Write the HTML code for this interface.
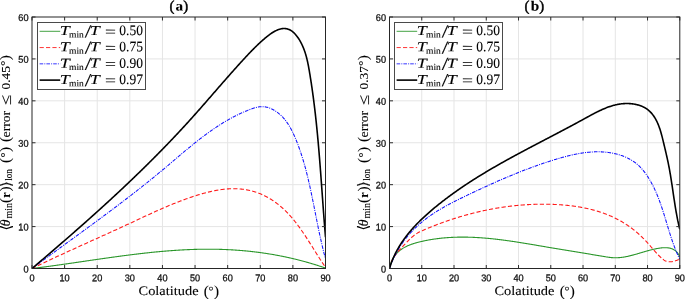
<!DOCTYPE html>
<html><head><meta charset="utf-8"><title>figure</title>
<style>html,body{margin:0;padding:0;background:#fff}svg{display:block}.tk{font-family:"Liberation Sans",sans-serif;font-size:9.8px;fill:#111;stroke:#111;stroke-width:0.3px}.sf{font-family:"Liberation Serif","DejaVu Serif","DejaVu Sans",serif;font-size:13px;fill:#000;stroke:#000;stroke-width:0.1px}.it{font-style:italic}.bd{font-weight:bold}.sub{font-size:9.3px}.pr{font-size:15.2px}.dg{font-size:12.5px}</style></head><body>
<svg width="685" height="299" viewBox="0 0 685 299">
<rect width="685" height="299" fill="#fff"/>
<g id="plot-a">
<path d="M64.61,17.0 V268.5 M97.22,17.0 V268.5 M129.83,17.0 V268.5 M162.44,17.0 V268.5 M195.06,17.0 V268.5 M227.67,17.0 V268.5 M260.28,17.0 V268.5 M292.89,17.0 V268.5 M32.0,226.58 H325.5 M32.0,184.67 H325.5 M32.0,142.75 H325.5 M32.0,100.83 H325.5 M32.0,58.92 H325.5" stroke="#e5e5e5" stroke-width="1" fill="none"/>
<clipPath id="clip-a"><rect x="32.0" y="17.0" width="293.5" height="252.5"/></clipPath>
<g clip-path="url(#clip-a)" fill="none" stroke-linejoin="round">
<path d="M32.00,268.50 L32.49,268.44 L32.98,268.38 L33.46,268.32 L33.95,268.26 L34.44,268.20 L34.93,268.14 L35.41,268.08 L35.90,268.02 L36.39,267.96 L36.88,267.90 L37.37,267.84 L37.86,267.78 L38.34,267.71 L38.83,267.65 L39.32,267.59 L39.81,267.53 L40.30,267.47 L40.78,267.40 L41.27,267.34 L41.76,267.28 L42.25,267.21 L42.74,267.15 L43.23,267.09 L43.72,267.02 L44.20,266.96 L44.69,266.89 L45.18,266.83 L45.67,266.76 L46.16,266.70 L46.65,266.63 L47.14,266.57 L47.63,266.50 L48.12,266.44 L48.60,266.37 L49.09,266.31 L49.58,266.24 L50.07,266.17 L50.56,266.11 L51.05,266.04 L51.54,265.97 L52.03,265.91 L52.52,265.84 L53.01,265.77 L53.50,265.70 L53.99,265.64 L54.48,265.57 L54.96,265.50 L55.45,265.43 L55.94,265.37 L56.43,265.30 L56.92,265.23 L57.41,265.16 L57.90,265.09 L58.39,265.02 L58.88,264.95 L59.37,264.89 L59.86,264.82 L60.35,264.75 L60.84,264.68 L61.33,264.61 L61.82,264.54 L62.31,264.47 L62.80,264.40 L63.29,264.33 L63.78,264.26 L64.27,264.19 L64.76,264.12 L65.25,264.05 L65.74,263.98 L66.23,263.91 L66.72,263.84 L67.21,263.77 L67.70,263.70 L68.19,263.63 L68.68,263.56 L69.17,263.48 L69.67,263.41 L70.16,263.34 L70.65,263.27 L71.14,263.20 L71.63,263.13 L72.12,263.06 L72.61,262.99 L73.10,262.92 L73.59,262.84 L74.08,262.77 L74.57,262.70 L75.06,262.63 L75.55,262.56 L76.04,262.49 L76.54,262.41 L77.03,262.34 L77.52,262.27 L78.01,262.20 L78.50,262.13 L78.99,262.06 L79.48,261.98 L79.97,261.91 L80.46,261.84 L80.95,261.77 L81.45,261.70 L81.94,261.62 L82.43,261.55 L82.92,261.48 L83.41,261.41 L83.90,261.34 L84.39,261.26 L84.88,261.19 L85.38,261.12 L85.87,261.05 L86.36,260.98 L86.85,260.90 L87.34,260.83 L87.83,260.76 L88.33,260.69 L88.82,260.62 L89.31,260.54 L89.80,260.47 L90.29,260.40 L90.78,260.33 L91.28,260.26 L91.77,260.18 L92.26,260.11 L92.75,260.04 L93.24,259.97 L93.73,259.90 L94.23,259.83 L94.72,259.75 L95.21,259.68 L95.70,259.61 L96.19,259.54 L96.69,259.47 L97.18,259.40 L97.67,259.33 L98.16,259.25 L98.65,259.18 L99.15,259.11 L99.64,259.04 L100.13,258.97 L100.62,258.90 L101.12,258.83 L101.61,258.76 L102.10,258.69 L102.59,258.62 L103.08,258.55 L103.58,258.48 L104.07,258.41 L104.56,258.34 L105.05,258.27 L105.55,258.20 L106.04,258.13 L106.53,258.06 L107.02,257.99 L107.52,257.92 L108.01,257.85 L108.50,257.78 L108.99,257.71 L109.49,257.64 L109.98,257.57 L110.47,257.50 L110.96,257.43 L111.46,257.36 L111.95,257.30 L112.44,257.23 L112.94,257.16 L113.43,257.09 L113.92,257.02 L114.41,256.95 L114.91,256.89 L115.40,256.82 L115.89,256.75 L116.39,256.68 L116.88,256.62 L117.37,256.55 L117.86,256.48 L118.36,256.42 L118.85,256.35 L119.34,256.28 L119.84,256.22 L120.33,256.15 L120.82,256.09 L121.31,256.02 L121.81,255.95 L122.30,255.89 L122.79,255.82 L123.29,255.76 L123.78,255.69 L124.27,255.63 L124.77,255.56 L125.26,255.50 L125.75,255.44 L126.25,255.37 L126.74,255.31 L127.23,255.24 L127.73,255.18 L128.22,255.12 L128.71,255.06 L129.21,254.99 L129.70,254.93 L130.19,254.87 L130.69,254.81 L131.18,254.74 L131.67,254.68 L132.17,254.62 L132.66,254.56 L133.15,254.50 L133.65,254.44 L134.14,254.38 L134.63,254.32 L135.13,254.26 L135.62,254.20 L136.11,254.14 L136.61,254.08 L137.10,254.02 L137.59,253.96 L138.09,253.90 L138.58,253.84 L139.07,253.78 L139.57,253.73 L140.06,253.67 L140.56,253.61 L141.05,253.55 L141.54,253.50 L142.04,253.44 L142.53,253.38 L143.02,253.33 L143.52,253.27 L144.01,253.22 L144.50,253.16 L145.00,253.11 L145.49,253.05 L145.99,253.00 L146.48,252.94 L146.97,252.89 L147.47,252.84 L147.96,252.78 L148.45,252.73 L148.95,252.68 L149.44,252.63 L149.94,252.57 L150.43,252.52 L150.92,252.47 L151.42,252.42 L151.91,252.37 L152.40,252.32 L152.90,252.27 L153.39,252.22 L153.89,252.17 L154.38,252.12 L154.87,252.07 L155.37,252.02 L155.86,251.97 L156.36,251.92 L156.85,251.88 L157.34,251.83 L157.84,251.78 L158.33,251.74 L158.83,251.69 L159.32,251.64 L159.81,251.60 L160.31,251.55 L160.80,251.51 L161.30,251.46 L161.79,251.42 L162.28,251.38 L162.78,251.33 L163.27,251.29 L163.77,251.25 L164.26,251.20 L164.75,251.16 L165.25,251.12 L165.74,251.08 L166.24,251.04 L166.73,251.00 L167.22,250.96 L167.72,250.92 L168.21,250.88 L168.71,250.84 L169.20,250.80 L169.69,250.76 L170.19,250.73 L170.68,250.69 L171.18,250.65 L171.67,250.62 L172.16,250.58 L172.66,250.54 L173.15,250.51 L173.65,250.47 L174.14,250.44 L174.63,250.40 L175.13,250.37 L175.62,250.34 L176.12,250.30 L176.61,250.27 L177.11,250.24 L177.60,250.21 L178.09,250.18 L178.59,250.15 L179.08,250.12 L179.58,250.09 L180.07,250.06 L180.56,250.03 L181.06,250.00 L181.55,249.97 L182.05,249.94 L182.54,249.92 L183.03,249.89 L183.53,249.86 L184.02,249.84 L184.52,249.81 L185.01,249.79 L185.51,249.76 L186.00,249.74 L186.49,249.72 L186.99,249.69 L187.48,249.67 L187.98,249.65 L188.47,249.63 L188.96,249.61 L189.46,249.59 L189.95,249.57 L190.45,249.55 L190.94,249.53 L191.43,249.51 L191.93,249.49 L192.42,249.47 L192.92,249.46 L193.41,249.44 L193.90,249.42 L194.40,249.41 L194.89,249.39 L195.39,249.38 L195.88,249.36 L196.38,249.35 L196.87,249.34 L197.36,249.32 L197.86,249.31 L198.35,249.30 L198.85,249.29 L199.34,249.28 L199.83,249.27 L200.33,249.26 L200.82,249.25 L201.32,249.24 L201.81,249.24 L202.30,249.23 L202.80,249.22 L203.29,249.22 L203.79,249.21 L204.28,249.21 L204.77,249.20 L205.27,249.20 L205.76,249.19 L206.26,249.19 L206.75,249.19 L207.24,249.19 L207.74,249.19 L208.23,249.19 L208.73,249.19 L209.22,249.19 L209.71,249.19 L210.21,249.19 L210.70,249.19 L211.19,249.20 L211.69,249.20 L212.18,249.20 L212.68,249.21 L213.17,249.21 L213.66,249.22 L214.16,249.23 L214.65,249.23 L215.15,249.24 L215.64,249.25 L216.13,249.26 L216.63,249.27 L217.12,249.28 L217.61,249.29 L218.11,249.30 L218.60,249.31 L219.10,249.32 L219.59,249.34 L220.08,249.35 L220.58,249.37 L221.07,249.38 L221.56,249.40 L222.06,249.41 L222.55,249.43 L223.04,249.45 L223.54,249.46 L224.03,249.48 L224.52,249.50 L225.02,249.52 L225.51,249.54 L226.01,249.56 L226.50,249.59 L226.99,249.61 L227.49,249.63 L227.98,249.65 L228.47,249.68 L228.96,249.70 L229.46,249.73 L229.95,249.75 L230.44,249.78 L230.94,249.81 L231.43,249.84 L231.92,249.86 L232.42,249.89 L232.91,249.92 L233.40,249.95 L233.89,249.99 L234.39,250.02 L234.88,250.05 L235.37,250.08 L235.87,250.12 L236.36,250.15 L236.85,250.18 L237.34,250.22 L237.84,250.26 L238.33,250.29 L238.82,250.33 L239.31,250.37 L239.81,250.41 L240.30,250.45 L240.79,250.49 L241.28,250.53 L241.77,250.57 L242.27,250.61 L242.76,250.65 L243.25,250.70 L243.74,250.74 L244.23,250.78 L244.73,250.83 L245.22,250.87 L245.71,250.92 L246.20,250.97 L246.69,251.02 L247.18,251.06 L247.68,251.11 L248.17,251.16 L248.66,251.21 L249.15,251.26 L249.64,251.32 L250.13,251.37 L250.62,251.42 L251.11,251.47 L251.61,251.53 L252.10,251.58 L252.59,251.64 L253.08,251.70 L253.57,251.75 L254.06,251.81 L254.55,251.87 L255.04,251.93 L255.53,251.99 L256.02,252.05 L256.51,252.11 L257.00,252.17 L257.49,252.23 L257.98,252.29 L258.47,252.36 L258.96,252.42 L259.45,252.49 L259.94,252.55 L260.43,252.62 L260.92,252.69 L261.41,252.75 L261.90,252.82 L262.39,252.89 L262.88,252.96 L263.37,253.03 L263.86,253.10 L264.34,253.17 L264.83,253.24 L265.32,253.32 L265.81,253.39 L266.30,253.47 L266.79,253.54 L267.28,253.62 L267.76,253.69 L268.25,253.77 L268.74,253.85 L269.23,253.93 L269.72,254.01 L270.21,254.08 L270.69,254.17 L271.18,254.25 L271.67,254.33 L272.16,254.41 L272.64,254.49 L273.13,254.58 L273.62,254.66 L274.11,254.75 L274.59,254.83 L275.08,254.92 L275.57,255.01 L276.05,255.10 L276.54,255.19 L277.03,255.28 L277.51,255.37 L278.00,255.46 L278.48,255.55 L278.97,255.64 L279.46,255.73 L279.94,255.83 L280.43,255.92 L280.91,256.02 L281.40,256.11 L281.89,256.21 L282.37,256.31 L282.86,256.41 L283.34,256.50 L283.83,256.60 L284.31,256.70 L284.80,256.81 L285.28,256.91 L285.76,257.01 L286.25,257.11 L286.73,257.22 L287.22,257.32 L287.70,257.43 L288.19,257.53 L288.67,257.64 L289.15,257.75 L289.64,257.85 L290.12,257.96 L290.60,258.07 L291.09,258.18 L291.57,258.29 L292.05,258.41 L292.54,258.52 L293.02,258.63 L293.50,258.74 L293.98,258.86 L294.47,258.97 L294.95,259.09 L295.43,259.21 L295.91,259.33 L296.39,259.44 L296.87,259.56 L297.36,259.68 L297.84,259.80 L298.32,259.92 L298.80,260.05 L299.28,260.17 L299.76,260.29 L300.24,260.42 L300.72,260.54 L301.20,260.67 L301.68,260.79 L302.16,260.92 L302.64,261.05 L303.12,261.18 L303.60,261.31 L304.08,261.44 L304.56,261.57 L305.04,261.70 L305.52,261.83 L306.00,261.97 L306.48,262.10 L306.96,262.23 L307.44,262.37 L307.91,262.51 L308.39,262.64 L308.87,262.78 L309.35,262.92 L309.83,263.06 L310.30,263.20 L310.78,263.34 L311.26,263.48 L311.74,263.62 L312.21,263.76 L312.69,263.91 L313.17,264.05 L313.64,264.20 L314.12,264.34 L314.59,264.49 L315.07,264.64 L315.55,264.79 L316.02,264.94 L316.50,265.09 L316.97,265.24 L317.45,265.39 L317.92,265.54 L318.40,265.69 L318.87,265.85 L319.35,266.00 L319.82,266.16 L320.30,266.31 L320.77,266.47 L321.24,266.63 L321.72,266.79 L322.19,266.95 L322.66,267.10 L323.14,267.27 L323.61,267.43 L324.08,267.59 L324.56,267.75 L325.03,267.92 L325.50,268.08" stroke="#2a962a" stroke-width="1.1"/>
<path d="M32.00,268.50 L32.52,268.25 L33.04,267.99 L33.56,267.74 L34.08,267.49 L34.60,267.24 L35.12,266.98 L35.64,266.73 L36.16,266.48 L36.68,266.23 L37.20,265.98 L37.72,265.73 L38.24,265.48 L38.76,265.23 L39.28,264.98 L39.80,264.73 L40.32,264.48 L40.84,264.23 L41.36,263.98 L41.88,263.73 L42.40,263.48 L42.92,263.24 L43.44,262.99 L43.96,262.74 L44.49,262.49 L45.01,262.25 L45.53,262.00 L46.05,261.75 L46.57,261.50 L47.09,261.26 L47.61,261.01 L48.14,260.77 L48.66,260.52 L49.18,260.27 L49.70,260.03 L50.22,259.78 L50.75,259.54 L51.27,259.29 L51.79,259.05 L52.31,258.80 L52.83,258.56 L53.36,258.31 L53.88,258.07 L54.40,257.83 L54.93,257.58 L55.45,257.34 L55.97,257.10 L56.49,256.85 L57.02,256.61 L57.54,256.37 L58.06,256.12 L58.58,255.88 L59.11,255.64 L59.63,255.40 L60.15,255.16 L60.68,254.91 L61.20,254.67 L61.72,254.43 L62.25,254.19 L62.77,253.95 L63.29,253.71 L63.82,253.46 L64.34,253.22 L64.86,252.98 L65.39,252.74 L65.91,252.50 L66.44,252.26 L66.96,252.02 L67.48,251.78 L68.01,251.54 L68.53,251.30 L69.05,251.06 L69.58,250.82 L70.10,250.58 L70.63,250.34 L71.15,250.10 L71.67,249.86 L72.20,249.62 L72.72,249.39 L73.25,249.15 L73.77,248.91 L74.30,248.67 L74.82,248.43 L75.34,248.19 L75.87,247.95 L76.39,247.71 L76.92,247.48 L77.44,247.24 L77.96,247.00 L78.49,246.76 L79.01,246.52 L79.54,246.28 L80.06,246.05 L80.59,245.81 L81.11,245.57 L81.64,245.33 L82.16,245.10 L82.68,244.86 L83.21,244.62 L83.73,244.38 L84.26,244.15 L84.78,243.91 L85.31,243.67 L85.83,243.43 L86.36,243.20 L86.88,242.96 L87.40,242.72 L87.93,242.48 L88.45,242.25 L88.98,242.01 L89.50,241.77 L90.03,241.53 L90.55,241.30 L91.08,241.06 L91.60,240.82 L92.12,240.59 L92.65,240.35 L93.17,240.11 L93.70,239.88 L94.22,239.64 L94.75,239.40 L95.27,239.16 L95.79,238.93 L96.32,238.69 L96.84,238.45 L97.37,238.22 L97.89,237.98 L98.42,237.74 L98.94,237.50 L99.46,237.27 L99.99,237.03 L100.51,236.79 L101.04,236.56 L101.56,236.32 L102.08,236.08 L102.61,235.84 L103.13,235.61 L103.66,235.37 L104.18,235.13 L104.70,234.89 L105.23,234.66 L105.75,234.42 L106.28,234.18 L106.80,233.94 L107.32,233.71 L107.85,233.47 L108.37,233.23 L108.89,232.99 L109.42,232.76 L109.94,232.52 L110.46,232.28 L110.99,232.04 L111.51,231.80 L112.03,231.56 L112.56,231.33 L113.08,231.09 L113.60,230.85 L114.13,230.61 L114.65,230.37 L115.17,230.13 L115.70,229.89 L116.22,229.66 L116.74,229.42 L117.26,229.18 L117.79,228.94 L118.31,228.70 L118.83,228.46 L119.35,228.22 L119.88,227.98 L120.40,227.74 L120.92,227.50 L121.44,227.26 L121.97,227.02 L122.49,226.78 L123.01,226.54 L123.53,226.30 L124.05,226.06 L124.58,225.82 L125.10,225.58 L125.62,225.34 L126.14,225.10 L126.66,224.86 L127.19,224.61 L127.71,224.37 L128.23,224.13 L128.75,223.89 L129.27,223.65 L129.79,223.41 L130.31,223.16 L130.83,222.92 L131.35,222.68 L131.88,222.44 L132.40,222.19 L132.92,221.95 L133.44,221.71 L133.96,221.46 L134.48,221.22 L135.00,220.98 L135.52,220.74 L136.04,220.49 L136.56,220.25 L137.08,220.01 L137.60,219.76 L138.12,219.52 L138.64,219.28 L139.16,219.03 L139.68,218.79 L140.21,218.55 L140.73,218.30 L141.25,218.06 L141.77,217.82 L142.29,217.58 L142.81,217.33 L143.33,217.09 L143.85,216.85 L144.37,216.61 L144.89,216.37 L145.42,216.12 L145.94,215.88 L146.46,215.64 L146.98,215.40 L147.50,215.16 L148.02,214.92 L148.55,214.68 L149.07,214.44 L149.59,214.20 L150.11,213.96 L150.64,213.72 L151.16,213.48 L151.68,213.24 L152.21,213.00 L152.73,212.76 L153.25,212.52 L153.78,212.28 L154.30,212.05 L154.83,211.81 L155.35,211.57 L155.87,211.34 L156.40,211.10 L156.92,210.87 L157.45,210.63 L157.98,210.40 L158.50,210.16 L159.03,209.93 L159.55,209.69 L160.08,209.46 L160.61,209.23 L161.13,209.00 L161.66,208.77 L162.19,208.53 L162.72,208.30 L163.25,208.07 L163.78,207.85 L164.30,207.62 L164.83,207.39 L165.36,207.16 L165.89,206.93 L166.42,206.71 L166.96,206.48 L167.49,206.26 L168.02,206.03 L168.55,205.81 L169.08,205.58 L169.61,205.36 L170.15,205.14 L170.68,204.92 L171.21,204.70 L171.75,204.48 L172.28,204.26 L172.82,204.04 L173.35,203.82 L173.89,203.61 L174.43,203.39 L174.96,203.17 L175.50,202.96 L176.04,202.74 L176.58,202.53 L177.12,202.32 L177.65,202.11 L178.19,201.90 L178.73,201.69 L179.27,201.48 L179.82,201.27 L180.36,201.06 L180.90,200.86 L181.44,200.65 L181.99,200.45 L182.53,200.24 L183.07,200.04 L183.62,199.84 L184.16,199.64 L184.71,199.44 L185.26,199.24 L185.80,199.04 L186.35,198.84 L186.90,198.65 L187.45,198.45 L188.00,198.26 L188.55,198.07 L189.10,197.88 L189.65,197.69 L190.20,197.50 L190.75,197.31 L191.31,197.12 L191.86,196.93 L192.41,196.75 L192.97,196.56 L193.53,196.38 L194.08,196.20 L194.64,196.02 L195.20,195.84 L195.75,195.66 L196.31,195.48 L196.87,195.31 L197.43,195.13 L197.99,194.96 L198.56,194.79 L199.12,194.62 L199.68,194.45 L200.24,194.28 L200.81,194.12 L201.37,193.95 L201.94,193.79 L202.50,193.63 L203.07,193.47 L203.63,193.31 L204.20,193.16 L204.77,193.01 L205.33,192.85 L205.90,192.71 L206.47,192.56 L207.04,192.41 L207.61,192.27 L208.18,192.13 L208.75,191.99 L209.32,191.85 L209.89,191.72 L210.46,191.59 L211.03,191.46 L211.60,191.33 L212.17,191.20 L212.74,191.08 L213.31,190.96 L213.89,190.84 L214.46,190.73 L215.03,190.62 L215.60,190.51 L216.18,190.40 L216.75,190.30 L217.32,190.20 L217.89,190.10 L218.47,190.00 L219.04,189.91 L219.61,189.82 L220.19,189.74 L220.76,189.65 L221.33,189.57 L221.91,189.50 L222.48,189.42 L223.05,189.35 L223.62,189.29 L224.20,189.22 L224.77,189.16 L225.34,189.11 L225.92,189.05 L226.49,189.00 L227.06,188.96 L227.63,188.92 L228.20,188.88 L228.78,188.84 L229.35,188.81 L229.92,188.78 L230.49,188.76 L231.06,188.74 L231.63,188.72 L232.20,188.71 L232.77,188.70 L233.34,188.70 L233.91,188.70 L234.48,188.70 L235.05,188.71 L235.62,188.73 L236.18,188.74 L236.75,188.76 L237.32,188.79 L237.89,188.82 L238.45,188.85 L239.02,188.89 L239.58,188.94 L240.15,188.98 L240.71,189.03 L241.27,189.09 L241.84,189.15 L242.40,189.21 L242.96,189.28 L243.52,189.36 L244.08,189.43 L244.64,189.52 L245.19,189.60 L245.75,189.69 L246.31,189.79 L246.86,189.89 L247.42,189.99 L247.97,190.10 L248.52,190.21 L249.07,190.33 L249.62,190.45 L250.17,190.58 L250.72,190.71 L251.26,190.84 L251.81,190.98 L252.35,191.12 L252.89,191.27 L253.44,191.43 L253.98,191.58 L254.51,191.74 L255.05,191.91 L255.59,192.08 L256.12,192.26 L256.65,192.44 L257.18,192.62 L257.71,192.81 L258.24,193.00 L258.77,193.20 L259.29,193.40 L259.82,193.61 L260.34,193.82 L260.86,194.04 L261.37,194.26 L261.89,194.48 L262.40,194.71 L262.92,194.95 L263.43,195.18 L263.94,195.43 L264.44,195.67 L264.95,195.92 L265.45,196.18 L265.96,196.44 L266.46,196.70 L266.95,196.97 L267.45,197.24 L267.94,197.52 L268.44,197.80 L268.93,198.08 L269.42,198.37 L269.90,198.66 L270.39,198.96 L270.87,199.26 L271.35,199.56 L271.83,199.87 L272.31,200.18 L272.78,200.49 L273.26,200.81 L273.73,201.13 L274.20,201.46 L274.67,201.78 L275.13,202.12 L275.59,202.45 L276.06,202.79 L276.52,203.14 L276.97,203.48 L277.43,203.83 L277.88,204.18 L278.33,204.54 L278.78,204.90 L279.23,205.26 L279.67,205.63 L280.11,206.00 L280.55,206.37 L280.99,206.74 L281.43,207.12 L281.86,207.50 L282.29,207.89 L282.72,208.27 L283.15,208.66 L283.58,209.06 L284.00,209.45 L284.42,209.85 L284.84,210.25 L285.25,210.65 L285.67,211.06 L286.08,211.47 L286.49,211.88 L286.90,212.30 L287.30,212.71 L287.70,213.13 L288.11,213.55 L288.50,213.98 L288.90,214.40 L289.30,214.83 L289.69,215.26 L290.08,215.70 L290.47,216.13 L290.85,216.57 L291.24,217.01 L291.62,217.45 L292.00,217.90 L292.38,218.34 L292.76,218.79 L293.13,219.24 L293.50,219.69 L293.88,220.15 L294.25,220.60 L294.61,221.06 L294.98,221.52 L295.35,221.98 L295.71,222.44 L296.07,222.91 L296.43,223.37 L296.79,223.84 L297.14,224.31 L297.50,224.78 L297.85,225.25 L298.20,225.72 L298.55,226.20 L298.90,226.67 L299.25,227.15 L299.60,227.63 L299.94,228.11 L300.29,228.59 L300.63,229.07 L300.97,229.55 L301.31,230.04 L301.65,230.52 L301.98,231.01 L302.32,231.49 L302.65,231.98 L302.99,232.47 L303.32,232.96 L303.65,233.45 L303.98,233.94 L304.31,234.43 L304.64,234.92 L304.97,235.42 L305.29,235.91 L305.62,236.40 L305.94,236.90 L306.27,237.39 L306.59,237.89 L306.91,238.38 L307.23,238.88 L307.55,239.37 L307.87,239.87 L308.19,240.36 L308.50,240.86 L308.82,241.36 L309.14,241.85 L309.45,242.35 L309.77,242.85 L310.08,243.34 L310.39,243.84 L310.71,244.34 L311.02,244.83 L311.33,245.33 L311.64,245.82 L311.95,246.32 L312.26,246.81 L312.57,247.31 L312.88,247.80 L313.19,248.30 L313.50,248.79 L313.81,249.28 L314.12,249.78 L314.42,250.27 L314.73,250.76 L315.04,251.25 L315.35,251.74 L315.65,252.23 L315.96,252.72 L316.26,253.20 L316.57,253.69 L316.88,254.18 L317.18,254.66 L317.49,255.14 L317.80,255.63 L318.10,256.11 L318.41,256.59 L318.71,257.07 L319.02,257.55 L319.32,258.02 L319.63,258.50 L319.94,258.97 L320.24,259.45 L320.55,259.92 L320.86,260.39 L321.16,260.86 L321.47,261.32 L321.78,261.79 L322.09,262.25 L322.40,262.72 L322.70,263.18 L323.01,263.64 L323.32,264.09 L323.63,264.55 L323.94,265.00 L324.25,265.45 L324.56,265.90 L324.88,266.35 L325.19,266.80 L325.50,267.24" stroke="#ff1a1a" stroke-width="1.1" stroke-dasharray="4.2 2.2"/>
<path d="M32.00,268.50 L32.61,268.04 L33.23,267.59 L33.84,267.13 L34.46,266.68 L35.07,266.22 L35.69,265.76 L36.30,265.31 L36.92,264.85 L37.53,264.40 L38.15,263.95 L38.76,263.49 L39.38,263.04 L39.99,262.58 L40.61,262.13 L41.22,261.68 L41.84,261.23 L42.45,260.77 L43.07,260.32 L43.68,259.87 L44.30,259.42 L44.91,258.96 L45.53,258.51 L46.14,258.06 L46.76,257.61 L47.37,257.16 L47.99,256.71 L48.60,256.26 L49.22,255.81 L49.83,255.36 L50.45,254.91 L51.06,254.46 L51.68,254.01 L52.29,253.56 L52.91,253.11 L53.52,252.66 L54.14,252.21 L54.75,251.76 L55.37,251.31 L55.98,250.86 L56.60,250.41 L57.21,249.96 L57.83,249.51 L58.44,249.07 L59.06,248.62 L59.67,248.17 L60.29,247.72 L60.90,247.27 L61.51,246.83 L62.13,246.38 L62.74,245.93 L63.36,245.48 L63.97,245.03 L64.59,244.59 L65.20,244.14 L65.82,243.69 L66.43,243.24 L67.05,242.80 L67.66,242.35 L68.27,241.90 L68.89,241.45 L69.50,241.01 L70.12,240.56 L70.73,240.11 L71.34,239.67 L71.96,239.22 L72.57,238.77 L73.19,238.32 L73.80,237.88 L74.41,237.43 L75.03,236.98 L75.64,236.54 L76.25,236.09 L76.87,235.64 L77.48,235.20 L78.09,234.75 L78.71,234.30 L79.32,233.85 L79.93,233.41 L80.55,232.96 L81.16,232.51 L81.77,232.06 L82.39,231.62 L83.00,231.17 L83.61,230.72 L84.22,230.27 L84.84,229.83 L85.45,229.38 L86.06,228.93 L86.67,228.48 L87.28,228.04 L87.90,227.59 L88.51,227.14 L89.12,226.69 L89.73,226.24 L90.34,225.79 L90.95,225.35 L91.57,224.90 L92.18,224.45 L92.79,224.00 L93.40,223.55 L94.01,223.10 L94.62,222.65 L95.23,222.20 L95.84,221.75 L96.45,221.30 L97.06,220.85 L97.67,220.40 L98.28,219.95 L98.89,219.50 L99.50,219.05 L100.11,218.60 L100.72,218.15 L101.33,217.70 L101.94,217.25 L102.55,216.80 L103.16,216.35 L103.77,215.89 L104.38,215.44 L104.99,214.99 L105.59,214.54 L106.20,214.08 L106.81,213.63 L107.42,213.18 L108.03,212.73 L108.63,212.27 L109.24,211.82 L109.85,211.36 L110.46,210.91 L111.06,210.46 L111.67,210.00 L112.28,209.55 L112.88,209.09 L113.49,208.64 L114.10,208.18 L114.70,207.72 L115.31,207.27 L115.91,206.81 L116.52,206.35 L117.13,205.90 L117.73,205.44 L118.34,204.98 L118.94,204.52 L119.55,204.07 L120.15,203.61 L120.75,203.15 L121.36,202.69 L121.96,202.23 L122.57,201.77 L123.17,201.31 L123.77,200.85 L124.38,200.39 L124.98,199.93 L125.58,199.47 L126.19,199.00 L126.79,198.54 L127.39,198.08 L127.99,197.62 L128.59,197.15 L129.20,196.69 L129.80,196.22 L130.40,195.76 L131.00,195.30 L131.60,194.83 L132.20,194.37 L132.80,193.90 L133.40,193.43 L134.00,192.97 L134.60,192.50 L135.20,192.03 L135.80,191.56 L136.40,191.10 L137.00,190.63 L137.60,190.16 L138.20,189.69 L138.80,189.22 L139.39,188.75 L139.99,188.28 L140.59,187.80 L141.19,187.33 L141.78,186.86 L142.38,186.39 L142.98,185.91 L143.57,185.44 L144.17,184.97 L144.77,184.49 L145.36,184.02 L145.96,183.54 L146.55,183.07 L147.15,182.59 L147.74,182.11 L148.34,181.63 L148.93,181.16 L149.52,180.68 L150.12,180.20 L150.71,179.72 L151.31,179.24 L151.90,178.76 L152.49,178.28 L153.08,177.80 L153.68,177.31 L154.27,176.83 L154.86,176.35 L155.45,175.86 L156.04,175.38 L156.63,174.89 L157.22,174.41 L157.81,173.92 L158.40,173.44 L158.99,172.95 L159.58,172.46 L160.17,171.97 L160.76,171.48 L161.35,170.99 L161.94,170.50 L162.52,170.01 L163.11,169.52 L163.70,169.03 L164.29,168.54 L164.87,168.04 L165.46,167.55 L166.05,167.06 L166.63,166.56 L167.22,166.07 L167.81,165.57 L168.39,165.08 L168.98,164.58 L169.56,164.09 L170.15,163.59 L170.73,163.09 L171.32,162.60 L171.90,162.10 L172.49,161.60 L173.08,161.11 L173.66,160.61 L174.25,160.11 L174.83,159.62 L175.42,159.12 L176.00,158.62 L176.59,158.12 L177.17,157.63 L177.76,157.13 L178.35,156.64 L178.93,156.14 L179.52,155.64 L180.11,155.15 L180.69,154.65 L181.28,154.16 L181.87,153.66 L182.45,153.17 L183.04,152.68 L183.63,152.18 L184.22,151.69 L184.81,151.20 L185.40,150.71 L185.99,150.22 L186.58,149.73 L187.17,149.24 L187.76,148.75 L188.35,148.26 L188.94,147.77 L189.53,147.29 L190.13,146.80 L190.72,146.32 L191.31,145.83 L191.91,145.35 L192.50,144.87 L193.10,144.39 L193.69,143.91 L194.29,143.43 L194.89,142.95 L195.49,142.47 L196.09,142.00 L196.68,141.52 L197.28,141.05 L197.89,140.58 L198.49,140.11 L199.09,139.64 L199.69,139.17 L200.30,138.70 L200.90,138.24 L201.51,137.77 L202.11,137.31 L202.72,136.85 L203.33,136.39 L203.94,135.93 L204.55,135.48 L205.16,135.02 L205.77,134.57 L206.38,134.12 L206.99,133.67 L207.61,133.22 L208.22,132.77 L208.84,132.33 L209.46,131.88 L210.08,131.44 L210.70,131.00 L211.32,130.57 L211.94,130.13 L212.56,129.70 L213.19,129.27 L213.81,128.84 L214.44,128.41 L215.07,127.99 L215.70,127.56 L216.33,127.14 L216.96,126.72 L217.59,126.31 L218.22,125.89 L218.86,125.48 L219.50,125.07 L220.13,124.66 L220.77,124.26 L221.41,123.86 L222.06,123.46 L222.70,123.06 L223.34,122.67 L223.99,122.27 L224.64,121.88 L225.29,121.50 L225.94,121.11 L226.59,120.73 L227.24,120.35 L227.90,119.97 L228.56,119.60 L229.21,119.23 L229.87,118.86 L230.54,118.50 L231.20,118.13 L231.86,117.77 L232.53,117.42 L233.20,117.06 L233.87,116.71 L234.54,116.37 L235.21,116.02 L235.89,115.68 L236.57,115.34 L237.24,115.01 L237.92,114.67 L238.61,114.35 L239.29,114.02 L239.98,113.70 L240.66,113.38 L241.35,113.06 L242.05,112.75 L242.74,112.44 L243.43,112.14 L244.13,111.84 L244.83,111.54 L245.53,111.24 L246.24,110.95 L246.94,110.66 L247.65,110.38 L248.36,110.10 L249.07,109.82 L249.78,109.55 L250.50,109.28 L251.22,109.01 L251.93,108.76 L252.66,108.50 L253.38,108.26 L254.10,108.03 L254.83,107.81 L255.56,107.60 L256.29,107.41 L257.02,107.24 L257.75,107.08 L258.48,106.95 L259.22,106.84 L259.95,106.75 L260.68,106.68 L261.42,106.65 L262.16,106.64 L262.89,106.66 L263.63,106.71 L264.36,106.79 L265.10,106.89 L265.83,107.02 L266.56,107.17 L267.28,107.35 L268.00,107.56 L268.72,107.78 L269.43,108.03 L270.14,108.30 L270.84,108.59 L271.54,108.89 L272.23,109.22 L272.91,109.56 L273.58,109.93 L274.25,110.30 L274.90,110.70 L275.55,111.10 L276.19,111.52 L276.81,111.96 L277.43,112.40 L278.03,112.86 L278.62,113.33 L279.21,113.81 L279.78,114.30 L280.35,114.81 L280.90,115.32 L281.44,115.85 L281.98,116.38 L282.50,116.93 L283.02,117.48 L283.53,118.05 L284.03,118.62 L284.51,119.20 L285.00,119.79 L285.47,120.39 L285.93,121.00 L286.39,121.62 L286.84,122.24 L287.28,122.87 L287.71,123.51 L288.14,124.15 L288.56,124.80 L288.97,125.46 L289.37,126.12 L289.77,126.79 L290.16,127.47 L290.54,128.15 L290.92,128.83 L291.29,129.52 L291.66,130.21 L292.02,130.91 L292.37,131.61 L292.72,132.32 L293.06,133.03 L293.40,133.74 L293.73,134.45 L294.06,135.17 L294.38,135.89 L294.69,136.61 L295.01,137.34 L295.32,138.06 L295.62,138.79 L295.92,139.51 L296.22,140.24 L296.51,140.97 L296.80,141.70 L297.08,142.43 L297.36,143.15 L297.64,143.88 L297.92,144.61 L298.19,145.33 L298.46,146.06 L298.73,146.79 L298.99,147.51 L299.25,148.24 L299.51,148.96 L299.76,149.68 L300.02,150.41 L300.27,151.13 L300.51,151.85 L300.76,152.58 L301.00,153.30 L301.24,154.02 L301.47,154.74 L301.70,155.47 L301.93,156.19 L302.16,156.91 L302.39,157.63 L302.61,158.35 L302.83,159.07 L303.05,159.80 L303.27,160.52 L303.48,161.24 L303.70,161.96 L303.91,162.68 L304.11,163.40 L304.32,164.13 L304.52,164.85 L304.73,165.57 L304.93,166.29 L305.13,167.01 L305.32,167.74 L305.52,168.46 L305.71,169.18 L305.90,169.91 L306.09,170.63 L306.28,171.35 L306.46,172.08 L306.65,172.80 L306.83,173.53 L307.01,174.25 L307.19,174.98 L307.37,175.70 L307.55,176.43 L307.72,177.16 L307.90,177.89 L308.07,178.62 L308.24,179.34 L308.42,180.07 L308.59,180.80 L308.76,181.54 L308.92,182.27 L309.09,183.00 L309.26,183.73 L309.42,184.47 L309.59,185.20 L309.75,185.94 L309.91,186.67 L310.07,187.41 L310.23,188.15 L310.39,188.88 L310.55,189.62 L310.71,190.36 L310.87,191.10 L311.03,191.84 L311.18,192.58 L311.34,193.33 L311.50,194.07 L311.65,194.81 L311.81,195.55 L311.96,196.30 L312.11,197.04 L312.27,197.79 L312.42,198.53 L312.57,199.28 L312.72,200.03 L312.87,200.77 L313.03,201.52 L313.18,202.27 L313.33,203.01 L313.48,203.76 L313.63,204.51 L313.78,205.26 L313.93,206.01 L314.07,206.76 L314.22,207.51 L314.37,208.26 L314.52,209.01 L314.67,209.76 L314.82,210.51 L314.97,211.26 L315.12,212.01 L315.27,212.76 L315.41,213.51 L315.56,214.26 L315.71,215.01 L315.86,215.76 L316.01,216.52 L316.16,217.27 L316.31,218.02 L316.46,218.77 L316.61,219.52 L316.76,220.27 L316.91,221.02 L317.06,221.77 L317.21,222.52 L317.36,223.28 L317.51,224.03 L317.67,224.78 L317.82,225.53 L317.97,226.28 L318.13,227.03 L318.28,227.78 L318.43,228.53 L318.59,229.28 L318.74,230.03 L318.90,230.78 L319.06,231.52 L319.21,232.27 L319.37,233.02 L319.53,233.77 L319.69,234.52 L319.85,235.26 L320.01,236.01 L320.17,236.75 L320.34,237.50 L320.50,238.25 L320.66,238.99 L320.83,239.73 L320.99,240.48 L321.16,241.22 L321.33,241.96 L321.50,242.71 L321.67,243.45 L321.84,244.19 L322.01,244.93 L322.18,245.67 L322.36,246.41 L322.53,247.15 L322.71,247.88 L322.88,248.62 L323.06,249.36 L323.24,250.09 L323.42,250.83 L323.60,251.56 L323.79,252.30 L323.97,253.03 L324.16,253.76 L324.35,254.49 L324.54,255.22 L324.73,255.95 L324.92,256.68 L325.11,257.41 L325.30,258.13 L325.50,258.86" stroke="#1010ff" stroke-width="1.05" stroke-dasharray="3.6 1.1 1 1.1"/>
<path d="M32.00,268.50 L32.73,267.88 L33.45,267.27 L34.18,266.65 L34.90,266.03 L35.63,265.42 L36.35,264.80 L37.08,264.18 L37.80,263.56 L38.53,262.95 L39.25,262.33 L39.98,261.71 L40.70,261.09 L41.42,260.48 L42.15,259.86 L42.87,259.24 L43.60,258.62 L44.32,258.00 L45.04,257.38 L45.77,256.76 L46.49,256.14 L47.21,255.53 L47.94,254.91 L48.66,254.29 L49.38,253.67 L50.10,253.05 L50.83,252.43 L51.55,251.81 L52.27,251.19 L52.99,250.57 L53.71,249.94 L54.43,249.32 L55.15,248.70 L55.88,248.08 L56.60,247.46 L57.32,246.84 L58.04,246.22 L58.76,245.59 L59.48,244.97 L60.20,244.35 L60.92,243.73 L61.63,243.10 L62.35,242.48 L63.07,241.86 L63.79,241.23 L64.51,240.61 L65.23,239.99 L65.95,239.36 L66.66,238.74 L67.38,238.11 L68.10,237.49 L68.82,236.86 L69.53,236.24 L70.25,235.61 L70.97,234.98 L71.68,234.36 L72.40,233.73 L73.11,233.11 L73.83,232.48 L74.54,231.85 L75.26,231.22 L75.97,230.60 L76.69,229.97 L77.40,229.34 L78.12,228.71 L78.83,228.08 L79.54,227.45 L80.26,226.82 L80.97,226.20 L81.68,225.57 L82.39,224.94 L83.10,224.30 L83.82,223.67 L84.53,223.04 L85.24,222.41 L85.95,221.78 L86.66,221.15 L87.37,220.52 L88.08,219.88 L88.79,219.25 L89.50,218.62 L90.21,217.98 L90.92,217.35 L91.63,216.72 L92.33,216.08 L93.04,215.45 L93.75,214.81 L94.46,214.18 L95.16,213.54 L95.87,212.91 L96.58,212.27 L97.28,211.63 L97.99,210.99 L98.69,210.36 L99.40,209.72 L100.10,209.08 L100.81,208.44 L101.51,207.80 L102.22,207.17 L102.92,206.53 L103.62,205.89 L104.32,205.25 L105.03,204.61 L105.73,203.96 L106.43,203.32 L107.13,202.68 L107.83,202.04 L108.53,201.40 L109.23,200.75 L109.93,200.11 L110.63,199.47 L111.33,198.82 L112.03,198.18 L112.73,197.53 L113.43,196.89 L114.12,196.24 L114.82,195.60 L115.52,194.95 L116.21,194.30 L116.91,193.66 L117.60,193.01 L118.30,192.36 L118.99,191.71 L119.69,191.06 L120.38,190.41 L121.08,189.76 L121.77,189.11 L122.46,188.46 L123.16,187.81 L123.85,187.16 L124.54,186.51 L125.23,185.86 L125.92,185.20 L126.61,184.55 L127.30,183.90 L127.99,183.24 L128.68,182.59 L129.37,181.93 L130.06,181.28 L130.74,180.62 L131.43,179.96 L132.12,179.31 L132.81,178.65 L133.49,177.99 L134.18,177.33 L134.86,176.67 L135.55,176.01 L136.23,175.35 L136.91,174.69 L137.60,174.03 L138.28,173.37 L138.96,172.71 L139.65,172.05 L140.33,171.38 L141.01,170.72 L141.69,170.06 L142.37,169.39 L143.05,168.73 L143.73,168.06 L144.41,167.40 L145.08,166.73 L145.76,166.06 L146.44,165.40 L147.12,164.73 L147.79,164.06 L148.47,163.39 L149.14,162.72 L149.82,162.05 L150.49,161.38 L151.17,160.71 L151.84,160.04 L152.51,159.37 L153.18,158.69 L153.86,158.02 L154.53,157.35 L155.20,156.67 L155.87,156.00 L156.54,155.32 L157.21,154.64 L157.87,153.97 L158.54,153.29 L159.21,152.61 L159.88,151.93 L160.54,151.25 L161.21,150.58 L161.88,149.90 L162.54,149.21 L163.20,148.53 L163.87,147.85 L164.53,147.17 L165.19,146.49 L165.86,145.80 L166.52,145.12 L167.18,144.43 L167.84,143.75 L168.50,143.06 L169.16,142.37 L169.82,141.69 L170.48,141.00 L171.13,140.31 L171.79,139.62 L172.45,138.93 L173.10,138.24 L173.76,137.55 L174.41,136.86 L175.07,136.16 L175.72,135.47 L176.37,134.78 L177.03,134.08 L177.68,133.39 L178.33,132.69 L178.98,132.00 L179.63,131.30 L180.28,130.60 L180.93,129.90 L181.58,129.21 L182.22,128.51 L182.87,127.81 L183.52,127.10 L184.16,126.40 L184.81,125.70 L185.45,125.00 L186.10,124.29 L186.74,123.59 L187.38,122.89 L188.02,122.18 L188.66,121.47 L189.31,120.77 L189.95,120.06 L190.58,119.35 L191.22,118.64 L191.86,117.93 L192.50,117.22 L193.14,116.51 L193.77,115.80 L194.41,115.09 L195.04,114.37 L195.68,113.66 L196.31,112.95 L196.95,112.23 L197.58,111.52 L198.21,110.80 L198.85,110.09 L199.48,109.37 L200.11,108.66 L200.74,107.94 L201.37,107.22 L202.00,106.51 L202.63,105.79 L203.26,105.07 L203.89,104.35 L204.52,103.63 L205.15,102.92 L205.78,102.20 L206.40,101.48 L207.03,100.76 L207.66,100.04 L208.29,99.32 L208.91,98.60 L209.54,97.88 L210.17,97.16 L210.79,96.44 L211.42,95.73 L212.05,95.01 L212.67,94.29 L213.30,93.57 L213.92,92.85 L214.55,92.13 L215.17,91.41 L215.80,90.69 L216.42,89.97 L217.05,89.26 L217.67,88.54 L218.30,87.82 L218.92,87.10 L219.55,86.39 L220.17,85.67 L220.80,84.95 L221.42,84.24 L222.05,83.52 L222.67,82.80 L223.30,82.09 L223.92,81.38 L224.55,80.66 L225.17,79.95 L225.80,79.23 L226.42,78.52 L227.05,77.81 L227.68,77.10 L228.30,76.39 L228.93,75.68 L229.56,74.97 L230.18,74.26 L230.81,73.55 L231.44,72.84 L232.06,72.13 L232.69,71.43 L233.32,70.72 L233.95,70.02 L234.58,69.31 L235.21,68.61 L235.83,67.91 L236.46,67.21 L237.09,66.51 L237.72,65.81 L238.35,65.11 L238.99,64.41 L239.62,63.71 L240.25,63.02 L240.88,62.32 L241.51,61.63 L242.15,60.93 L242.78,60.24 L243.42,59.55 L244.05,58.86 L244.69,58.17 L245.32,57.49 L245.96,56.80 L246.60,56.11 L247.24,55.43 L247.88,54.75 L248.53,54.06 L249.17,53.38 L249.82,52.70 L250.47,52.02 L251.13,51.34 L251.79,50.67 L252.45,49.99 L253.12,49.32 L253.79,48.64 L254.47,47.97 L255.15,47.29 L255.83,46.62 L256.52,45.95 L257.22,45.28 L257.92,44.61 L258.63,43.94 L259.34,43.27 L260.06,42.61 L260.79,41.94 L261.53,41.27 L262.27,40.61 L263.02,39.94 L263.78,39.28 L264.54,38.62 L265.32,37.96 L266.10,37.30 L266.89,36.65 L267.69,36.02 L268.49,35.39 L269.31,34.78 L270.13,34.18 L270.95,33.60 L271.79,33.04 L272.63,32.50 L273.48,31.99 L274.34,31.50 L275.20,31.04 L276.07,30.61 L276.94,30.21 L277.83,29.85 L278.71,29.52 L279.60,29.24 L280.49,28.99 L281.38,28.79 L282.27,28.64 L283.14,28.54 L284.01,28.50 L284.87,28.51 L285.72,28.58 L286.55,28.71 L287.36,28.90 L288.16,29.15 L288.95,29.45 L289.71,29.81 L290.46,30.21 L291.20,30.67 L291.92,31.16 L292.62,31.70 L293.31,32.28 L293.98,32.90 L294.63,33.54 L295.27,34.22 L295.89,34.93 L296.49,35.67 L297.08,36.42 L297.65,37.20 L298.21,38.00 L298.74,38.81 L299.26,39.63 L299.76,40.46 L300.25,41.31 L300.71,42.15 L301.17,43.01 L301.60,43.86 L302.02,44.73 L302.42,45.60 L302.81,46.47 L303.19,47.35 L303.55,48.23 L303.89,49.12 L304.23,50.02 L304.55,50.91 L304.86,51.82 L305.16,52.72 L305.45,53.63 L305.72,54.54 L305.99,55.46 L306.25,56.38 L306.49,57.30 L306.73,58.23 L306.96,59.15 L307.18,60.08 L307.40,61.02 L307.60,61.95 L307.80,62.89 L308.00,63.83 L308.19,64.77 L308.37,65.71 L308.55,66.65 L308.72,67.60 L308.89,68.54 L309.06,69.49 L309.23,70.43 L309.39,71.38 L309.55,72.33 L309.70,73.27 L309.86,74.22 L310.02,75.17 L310.17,76.11 L310.32,77.06 L310.47,78.01 L310.62,78.95 L310.77,79.90 L310.92,80.84 L311.06,81.79 L311.21,82.74 L311.35,83.68 L311.49,84.63 L311.63,85.58 L311.77,86.52 L311.91,87.47 L312.05,88.41 L312.18,89.36 L312.32,90.30 L312.45,91.25 L312.58,92.20 L312.71,93.14 L312.84,94.09 L312.97,95.03 L313.10,95.98 L313.23,96.92 L313.35,97.87 L313.48,98.81 L313.60,99.76 L313.72,100.71 L313.84,101.65 L313.96,102.60 L314.08,103.54 L314.20,104.49 L314.31,105.43 L314.43,106.38 L314.54,107.32 L314.66,108.27 L314.77,109.21 L314.88,110.16 L314.99,111.10 L315.10,112.05 L315.21,112.99 L315.32,113.94 L315.43,114.88 L315.53,115.83 L315.64,116.77 L315.74,117.72 L315.84,118.66 L315.95,119.61 L316.05,120.55 L316.15,121.50 L316.25,122.44 L316.35,123.39 L316.45,124.33 L316.54,125.28 L316.64,126.22 L316.74,127.17 L316.83,128.11 L316.93,129.06 L317.02,130.00 L317.11,130.95 L317.20,131.89 L317.30,132.84 L317.39,133.78 L317.48,134.73 L317.57,135.67 L317.65,136.62 L317.74,137.56 L317.83,138.51 L317.92,139.45 L318.00,140.40 L318.09,141.34 L318.17,142.29 L318.26,143.23 L318.34,144.18 L318.42,145.12 L318.51,146.07 L318.59,147.01 L318.67,147.96 L318.75,148.90 L318.83,149.85 L318.91,150.79 L318.99,151.74 L319.07,152.68 L319.15,153.63 L319.23,154.57 L319.30,155.52 L319.38,156.47 L319.46,157.41 L319.54,158.36 L319.61,159.30 L319.69,160.25 L319.76,161.19 L319.84,162.14 L319.91,163.08 L319.99,164.03 L320.06,164.98 L320.13,165.92 L320.21,166.87 L320.28,167.81 L320.35,168.76 L320.42,169.71 L320.49,170.65 L320.57,171.60 L320.64,172.54 L320.71,173.49 L320.78,174.44 L320.85,175.38 L320.92,176.33 L320.99,177.27 L321.06,178.22 L321.13,179.17 L321.20,180.11 L321.27,181.06 L321.34,182.01 L321.41,182.95 L321.48,183.90 L321.55,184.85 L321.62,185.80 L321.69,186.74 L321.75,187.69 L321.82,188.64 L321.89,189.58 L321.96,190.53 L322.03,191.48 L322.10,192.43 L322.17,193.37 L322.24,194.32 L322.30,195.27 L322.37,196.22 L322.44,197.16 L322.51,198.11 L322.58,199.06 L322.65,200.01 L322.72,200.96 L322.79,201.91 L322.85,202.85 L322.92,203.80 L322.99,204.75 L323.06,205.70 L323.13,206.65 L323.20,207.60 L323.27,208.55 L323.34,209.50 L323.41,210.44 L323.48,211.39 L323.55,212.34 L323.62,213.29 L323.70,214.24 L323.77,215.19 L323.84,216.14 L323.91,217.09 L323.98,218.04 L324.05,218.99 L324.13,219.94 L324.20,220.89 L324.27,221.84 L324.35,222.79 L324.42,223.74 L324.50,224.69 L324.57,225.64 L324.65,226.59 L324.72,227.55 L324.80,228.50 L324.87,229.45 L324.95,230.40 L325.03,231.35 L325.11,232.30 L325.18,233.25 L325.26,234.21 L325.34,235.16 L325.42,236.11 L325.50,237.06" stroke="#000" stroke-width="1.6"/>
</g>
<path d="M32.00,268.5 v-3.5 M32.00,17.0 v3.5 M64.61,268.5 v-3.5 M64.61,17.0 v3.5 M97.22,268.5 v-3.5 M97.22,17.0 v3.5 M129.83,268.5 v-3.5 M129.83,17.0 v3.5 M162.44,268.5 v-3.5 M162.44,17.0 v3.5 M195.06,268.5 v-3.5 M195.06,17.0 v3.5 M227.67,268.5 v-3.5 M227.67,17.0 v3.5 M260.28,268.5 v-3.5 M260.28,17.0 v3.5 M292.89,268.5 v-3.5 M292.89,17.0 v3.5 M325.50,268.5 v-3.5 M325.50,17.0 v3.5 M32.0,268.50 h3.5 M325.5,268.50 h-3.5 M32.0,226.58 h3.5 M325.5,226.58 h-3.5 M32.0,184.67 h3.5 M325.5,184.67 h-3.5 M32.0,142.75 h3.5 M325.5,142.75 h-3.5 M32.0,100.83 h3.5 M325.5,100.83 h-3.5 M32.0,58.92 h3.5 M325.5,58.92 h-3.5 M32.0,17.00 h3.5 M325.5,17.00 h-3.5" stroke="#2e2e2e" stroke-width="1" fill="none"/>
<rect x="32.0" y="17.0" width="293.5" height="251.5" fill="none" stroke="#262626" stroke-width="1"/>
<text x="29.45" y="281.20" class="tk" transform="rotate(0.03 29.45 281.20)" textLength="5.1" lengthAdjust="spacingAndGlyphs">0</text>
<text x="59.51" y="281.20" class="tk" transform="rotate(0.03 59.51 281.20)" textLength="10.2" lengthAdjust="spacingAndGlyphs">10</text>
<text x="92.12" y="281.20" class="tk" transform="rotate(0.03 92.12 281.20)" textLength="10.2" lengthAdjust="spacingAndGlyphs">20</text>
<text x="124.73" y="281.20" class="tk" transform="rotate(0.03 124.73 281.20)" textLength="10.2" lengthAdjust="spacingAndGlyphs">30</text>
<text x="157.34" y="281.20" class="tk" transform="rotate(0.03 157.34 281.20)" textLength="10.2" lengthAdjust="spacingAndGlyphs">40</text>
<text x="189.96" y="281.20" class="tk" transform="rotate(0.03 189.96 281.20)" textLength="10.2" lengthAdjust="spacingAndGlyphs">50</text>
<text x="222.57" y="281.20" class="tk" transform="rotate(0.03 222.57 281.20)" textLength="10.2" lengthAdjust="spacingAndGlyphs">60</text>
<text x="255.18" y="281.20" class="tk" transform="rotate(0.03 255.18 281.20)" textLength="10.2" lengthAdjust="spacingAndGlyphs">70</text>
<text x="287.79" y="281.20" class="tk" transform="rotate(0.03 287.79 281.20)" textLength="10.2" lengthAdjust="spacingAndGlyphs">80</text>
<text x="320.40" y="281.20" class="tk" transform="rotate(0.03 320.40 281.20)" textLength="10.2" lengthAdjust="spacingAndGlyphs">90</text>
<text x="23.40" y="272.40" class="tk" transform="rotate(0.03 23.40 272.40)" textLength="5.1" lengthAdjust="spacingAndGlyphs">0</text>
<text x="18.30" y="230.48" class="tk" transform="rotate(0.03 18.30 230.48)" textLength="10.2" lengthAdjust="spacingAndGlyphs">10</text>
<text x="18.30" y="188.57" class="tk" transform="rotate(0.03 18.30 188.57)" textLength="10.2" lengthAdjust="spacingAndGlyphs">20</text>
<text x="18.30" y="146.65" class="tk" transform="rotate(0.03 18.30 146.65)" textLength="10.2" lengthAdjust="spacingAndGlyphs">30</text>
<text x="18.30" y="104.73" class="tk" transform="rotate(0.03 18.30 104.73)" textLength="10.2" lengthAdjust="spacingAndGlyphs">40</text>
<text x="18.30" y="62.82" class="tk" transform="rotate(0.03 18.30 62.82)" textLength="10.2" lengthAdjust="spacingAndGlyphs">50</text>
<text x="18.30" y="20.90" class="tk" transform="rotate(0.03 18.30 20.90)" textLength="10.2" lengthAdjust="spacingAndGlyphs">60</text>
<text x="169.40" y="10.80" class="sf" transform="rotate(0.03 169.40 10.80)" style="font-size:14.8px;stroke-width:0.45px">(</text>
<text x="175.40" y="10.40" class="sf bd" transform="rotate(0.03 175.40 10.40)" textLength="7.6" lengthAdjust="spacingAndGlyphs" style="font-size:14px">a</text>
<text x="183.20" y="10.80" class="sf" transform="rotate(0.03 183.20 10.80)" style="font-size:14.8px;stroke-width:0.45px">)</text>
<text x="138.55" y="295.10" class="sf" transform="rotate(0.03 138.55 295.10)" textLength="60" lengthAdjust="spacingAndGlyphs">Colatitude</text>
<text x="203.75" y="295.90" class="sf pr" transform="rotate(0.03 203.75 295.90)" >(</text>
<text x="208.55" y="295.10" class="sf dg" transform="rotate(0.03 208.55 295.10)" >°</text>
<text x="213.95" y="295.90" class="sf pr" transform="rotate(0.03 213.95 295.90)" >)</text>
<g transform="translate(10.00,229.3) rotate(-90)">
<text x="-1.20" y="0.50" class="sf" style="font-size:14.5px">⟨</text>
<text x="3.00" y="0.00" class="sf it" style="font-size:13.6px">θ</text>
<text x="10.90" y="2.30" class="sf sub" textLength="15.4" lengthAdjust="spacingAndGlyphs">min</text>
<text x="26.40" y="0.40" class="sf pr" >(</text>
<text x="31.60" y="0.00" class="sf bd" textLength="5.4" lengthAdjust="spacingAndGlyphs">r</text>
<text x="37.80" y="0.40" class="sf pr" >)</text>
<text x="42.20" y="0.50" class="sf" style="font-size:14.5px">⟩</text>
<text x="48.60" y="2.30" class="sf sub" textLength="11.6" lengthAdjust="spacingAndGlyphs">lon</text>
<text x="66.20" y="0.40" class="sf pr" >(</text>
<text x="71.80" y="-1.00" class="sf dg" >°</text>
<text x="77.20" y="0.40" class="sf pr" >)</text>
<text x="87.30" y="0.40" class="sf pr" >(</text>
<text x="91.90" y="0.00" class="sf" textLength="26.6" lengthAdjust="spacingAndGlyphs">error</text>
<text x="124.40" y="1.20" class="sf" textLength="10.2" lengthAdjust="spacingAndGlyphs" style="font-size:15.5px">≤</text>
<text x="139.80" y="0.00" class="sf" textLength="23.4" lengthAdjust="spacingAndGlyphs" style="font-size:13.4px">0.45</text>
<text x="163.50" y="-1.00" class="sf dg" >°</text>
<text x="169.00" y="0.40" class="sf pr" >)</text>
</g>
<rect x="37.50" y="22.50" width="108" height="67" fill="#fff" stroke="#4a4a4a" stroke-width="1"/>
<path d="M39.60,31.30 h20.6" stroke="#2a962a" stroke-width="0.88" fill="none"/>
<text x="59.80" y="35.10" class="sf it" transform="rotate(0.03 59.80 35.10)" textLength="10" lengthAdjust="spacingAndGlyphs" style="font-size:13.6px">T</text>
<text x="69.00" y="37.50" class="sf sub" transform="rotate(0.03 69.00 37.50)" textLength="14.8" lengthAdjust="spacingAndGlyphs">min</text>
<text x="84.80" y="37.30" class="sf" transform="rotate(0.03 84.80 37.30)" textLength="6.6" lengthAdjust="spacingAndGlyphs" style="font-size:18.3px">/</text>
<text x="89.70" y="35.10" class="sf it" transform="rotate(0.03 89.70 35.10)" textLength="10" lengthAdjust="spacingAndGlyphs" style="font-size:13.6px">T</text>
<text x="105.00" y="36.70" class="sf" transform="rotate(0.03 105.00 36.70)" textLength="11" lengthAdjust="spacingAndGlyphs" style="font-size:15.5px">=</text>
<text x="119.30" y="35.10" class="sf" transform="rotate(0.03 119.30 35.10)" textLength="23.6" lengthAdjust="spacingAndGlyphs" style="font-size:14.4px">0.50</text>
<path d="M39.60,47.57 h20.6" stroke="#ff1a1a" stroke-width="0.88" stroke-dasharray="4.2 2.2" fill="none"/>
<text x="59.80" y="51.37" class="sf it" transform="rotate(0.03 59.80 51.37)" textLength="10" lengthAdjust="spacingAndGlyphs" style="font-size:13.6px">T</text>
<text x="69.00" y="53.77" class="sf sub" transform="rotate(0.03 69.00 53.77)" textLength="14.8" lengthAdjust="spacingAndGlyphs">min</text>
<text x="84.80" y="53.57" class="sf" transform="rotate(0.03 84.80 53.57)" textLength="6.6" lengthAdjust="spacingAndGlyphs" style="font-size:18.3px">/</text>
<text x="89.70" y="51.37" class="sf it" transform="rotate(0.03 89.70 51.37)" textLength="10" lengthAdjust="spacingAndGlyphs" style="font-size:13.6px">T</text>
<text x="105.00" y="52.97" class="sf" transform="rotate(0.03 105.00 52.97)" textLength="11" lengthAdjust="spacingAndGlyphs" style="font-size:15.5px">=</text>
<text x="119.30" y="51.37" class="sf" transform="rotate(0.03 119.30 51.37)" textLength="23.6" lengthAdjust="spacingAndGlyphs" style="font-size:14.4px">0.75</text>
<path d="M39.60,63.84 h20.6" stroke="#1010ff" stroke-width="0.84" stroke-dasharray="3.6 1.1 1 1.1" fill="none"/>
<text x="59.80" y="67.64" class="sf it" transform="rotate(0.03 59.80 67.64)" textLength="10" lengthAdjust="spacingAndGlyphs" style="font-size:13.6px">T</text>
<text x="69.00" y="70.04" class="sf sub" transform="rotate(0.03 69.00 70.04)" textLength="14.8" lengthAdjust="spacingAndGlyphs">min</text>
<text x="84.80" y="69.84" class="sf" transform="rotate(0.03 84.80 69.84)" textLength="6.6" lengthAdjust="spacingAndGlyphs" style="font-size:18.3px">/</text>
<text x="89.70" y="67.64" class="sf it" transform="rotate(0.03 89.70 67.64)" textLength="10" lengthAdjust="spacingAndGlyphs" style="font-size:13.6px">T</text>
<text x="105.00" y="69.24" class="sf" transform="rotate(0.03 105.00 69.24)" textLength="11" lengthAdjust="spacingAndGlyphs" style="font-size:15.5px">=</text>
<text x="119.30" y="67.64" class="sf" transform="rotate(0.03 119.30 67.64)" textLength="23.6" lengthAdjust="spacingAndGlyphs" style="font-size:14.4px">0.90</text>
<path d="M39.60,80.11 h20.6" stroke="#000" stroke-width="1.60" fill="none"/>
<text x="59.80" y="83.91" class="sf it" transform="rotate(0.03 59.80 83.91)" textLength="10" lengthAdjust="spacingAndGlyphs" style="font-size:13.6px">T</text>
<text x="69.00" y="86.31" class="sf sub" transform="rotate(0.03 69.00 86.31)" textLength="14.8" lengthAdjust="spacingAndGlyphs">min</text>
<text x="84.80" y="86.11" class="sf" transform="rotate(0.03 84.80 86.11)" textLength="6.6" lengthAdjust="spacingAndGlyphs" style="font-size:18.3px">/</text>
<text x="89.70" y="83.91" class="sf it" transform="rotate(0.03 89.70 83.91)" textLength="10" lengthAdjust="spacingAndGlyphs" style="font-size:13.6px">T</text>
<text x="105.00" y="85.51" class="sf" transform="rotate(0.03 105.00 85.51)" textLength="11" lengthAdjust="spacingAndGlyphs" style="font-size:15.5px">=</text>
<text x="119.30" y="83.91" class="sf" transform="rotate(0.03 119.30 83.91)" textLength="23.6" lengthAdjust="spacingAndGlyphs" style="font-size:14.4px">0.97</text>
</g>
<g id="plot-b">
<path d="M421.76,17.0 V268.5 M454.01,17.0 V268.5 M486.27,17.0 V268.5 M518.52,17.0 V268.5 M550.78,17.0 V268.5 M583.03,17.0 V268.5 M615.29,17.0 V268.5 M647.54,17.0 V268.5 M389.5,226.58 H679.8 M389.5,184.67 H679.8 M389.5,142.75 H679.8 M389.5,100.83 H679.8 M389.5,58.92 H679.8" stroke="#e5e5e5" stroke-width="1" fill="none"/>
<clipPath id="clip-b"><rect x="389.5" y="17.0" width="290.29999999999995" height="252.5"/></clipPath>
<g clip-path="url(#clip-b)" fill="none" stroke-linejoin="round">
<path d="M389.50,268.50 L389.59,267.96 L389.70,267.42 L389.81,266.88 L389.93,266.34 L390.07,265.81 L390.21,265.29 L390.35,264.76 L390.51,264.24 L390.68,263.73 L390.85,263.22 L391.04,262.71 L391.23,262.21 L391.43,261.71 L391.64,261.22 L391.86,260.74 L392.08,260.25 L392.31,259.78 L392.55,259.31 L392.80,258.84 L393.05,258.39 L393.32,257.93 L393.58,257.49 L393.86,257.05 L394.14,256.62 L394.44,256.19 L394.73,255.77 L395.04,255.36 L395.35,254.96 L395.67,254.56 L395.99,254.18 L396.32,253.80 L396.66,253.42 L397.00,253.06 L397.35,252.70 L397.70,252.35 L398.06,252.00 L398.43,251.66 L398.80,251.33 L399.17,251.01 L399.56,250.69 L399.94,250.38 L400.34,250.08 L400.73,249.78 L401.14,249.49 L401.54,249.21 L401.95,248.93 L402.37,248.65 L402.79,248.39 L403.22,248.12 L403.65,247.87 L404.08,247.62 L404.52,247.37 L404.96,247.13 L405.40,246.90 L405.85,246.67 L406.31,246.45 L406.76,246.23 L407.22,246.01 L407.69,245.80 L408.15,245.60 L408.62,245.40 L409.09,245.20 L409.57,245.01 L410.05,244.82 L410.53,244.64 L411.01,244.46 L411.49,244.29 L411.98,244.11 L412.47,243.95 L412.96,243.78 L413.46,243.62 L413.95,243.46 L414.45,243.31 L414.95,243.16 L415.45,243.01 L415.95,242.87 L416.46,242.73 L416.96,242.59 L417.47,242.45 L417.97,242.32 L418.48,242.19 L418.99,242.06 L419.50,241.93 L420.01,241.81 L420.52,241.69 L421.03,241.57 L421.54,241.45 L422.05,241.34 L422.56,241.22 L423.08,241.11 L423.59,241.00 L424.10,240.89 L424.61,240.78 L425.12,240.68 L425.63,240.57 L426.15,240.47 L426.66,240.37 L427.17,240.27 L427.68,240.18 L428.19,240.08 L428.71,239.99 L429.22,239.90 L429.73,239.81 L430.24,239.72 L430.76,239.63 L431.27,239.54 L431.78,239.46 L432.30,239.38 L432.81,239.30 L433.32,239.22 L433.83,239.14 L434.35,239.07 L434.86,238.99 L435.37,238.92 L435.89,238.85 L436.40,238.78 L436.92,238.71 L437.43,238.64 L437.94,238.58 L438.46,238.52 L438.97,238.45 L439.48,238.39 L440.00,238.33 L440.51,238.28 L441.03,238.22 L441.54,238.17 L442.05,238.11 L442.57,238.06 L443.08,238.01 L443.60,237.96 L444.11,237.92 L444.63,237.87 L445.14,237.83 L445.66,237.78 L446.17,237.74 L446.69,237.70 L447.20,237.66 L447.72,237.63 L448.23,237.59 L448.74,237.56 L449.26,237.52 L449.78,237.49 L450.29,237.46 L450.81,237.43 L451.32,237.40 L451.84,237.38 L452.35,237.35 L452.87,237.33 L453.38,237.31 L453.90,237.29 L454.41,237.27 L454.93,237.25 L455.44,237.23 L455.96,237.21 L456.48,237.20 L456.99,237.18 L457.51,237.17 L458.02,237.16 L458.54,237.15 L459.05,237.14 L459.57,237.14 L460.09,237.13 L460.60,237.12 L461.12,237.12 L461.63,237.12 L462.15,237.12 L462.67,237.12 L463.18,237.12 L463.70,237.12 L464.21,237.12 L464.73,237.13 L465.25,237.13 L465.76,237.14 L466.28,237.14 L466.80,237.15 L467.31,237.16 L467.83,237.17 L468.35,237.19 L468.86,237.20 L469.38,237.21 L469.89,237.23 L470.41,237.24 L470.93,237.26 L471.44,237.28 L471.96,237.30 L472.48,237.32 L472.99,237.34 L473.51,237.36 L474.03,237.39 L474.54,237.41 L475.06,237.44 L475.58,237.46 L476.09,237.49 L476.61,237.52 L477.13,237.55 L477.64,237.58 L478.16,237.61 L478.68,237.64 L479.19,237.67 L479.71,237.71 L480.23,237.74 L480.74,237.78 L481.26,237.81 L481.78,237.85 L482.29,237.89 L482.81,237.93 L483.33,237.97 L483.84,238.01 L484.36,238.05 L484.88,238.09 L485.40,238.13 L485.91,238.18 L486.43,238.22 L486.95,238.27 L487.46,238.32 L487.98,238.36 L488.50,238.41 L489.01,238.46 L489.53,238.51 L490.05,238.56 L490.56,238.61 L491.08,238.66 L491.60,238.72 L492.11,238.77 L492.63,238.82 L493.15,238.88 L493.66,238.93 L494.18,238.99 L494.70,239.05 L495.21,239.10 L495.73,239.16 L496.24,239.22 L496.76,239.28 L497.28,239.34 L497.79,239.40 L498.31,239.46 L498.83,239.53 L499.34,239.59 L499.86,239.65 L500.38,239.72 L500.89,239.78 L501.41,239.85 L501.93,239.91 L502.44,239.98 L502.96,240.05 L503.47,240.11 L503.99,240.18 L504.51,240.25 L505.02,240.32 L505.54,240.39 L506.05,240.46 L506.57,240.53 L507.09,240.60 L507.60,240.67 L508.12,240.74 L508.63,240.82 L509.15,240.89 L509.67,240.96 L510.18,241.04 L510.70,241.11 L511.21,241.19 L511.73,241.26 L512.24,241.34 L512.76,241.41 L513.27,241.49 L513.79,241.57 L514.31,241.65 L514.82,241.72 L515.34,241.80 L515.85,241.88 L516.37,241.96 L516.88,242.04 L517.40,242.12 L517.91,242.20 L518.43,242.28 L518.94,242.36 L519.46,242.44 L519.97,242.52 L520.49,242.60 L521.00,242.69 L521.52,242.77 L522.03,242.85 L522.54,242.93 L523.06,243.02 L523.57,243.10 L524.09,243.18 L524.60,243.27 L525.12,243.35 L525.63,243.44 L526.15,243.52 L526.66,243.61 L527.17,243.69 L527.69,243.78 L528.20,243.86 L528.71,243.95 L529.23,244.03 L529.74,244.12 L530.26,244.21 L530.77,244.29 L531.28,244.38 L531.80,244.47 L532.31,244.55 L532.82,244.64 L533.34,244.73 L533.85,244.81 L534.36,244.90 L534.87,244.99 L535.39,245.08 L535.90,245.16 L536.41,245.25 L536.93,245.34 L537.44,245.43 L537.95,245.51 L538.46,245.60 L538.98,245.69 L539.49,245.78 L540.00,245.87 L540.51,245.95 L541.02,246.04 L541.54,246.13 L542.05,246.22 L542.56,246.30 L543.07,246.39 L543.58,246.48 L544.09,246.57 L544.60,246.66 L545.12,246.74 L545.63,246.83 L546.14,246.92 L546.65,247.01 L547.16,247.09 L547.67,247.18 L548.18,247.27 L548.69,247.35 L549.20,247.44 L549.71,247.53 L550.22,247.61 L550.73,247.70 L551.24,247.79 L551.75,247.87 L552.26,247.96 L552.77,248.05 L553.28,248.13 L553.79,248.22 L554.30,248.30 L554.81,248.39 L555.32,248.47 L555.83,248.56 L556.34,248.64 L556.85,248.73 L557.36,248.81 L557.87,248.90 L558.37,248.98 L558.88,249.07 L559.39,249.15 L559.90,249.24 L560.41,249.32 L560.92,249.40 L561.43,249.49 L561.94,249.57 L562.44,249.66 L562.95,249.74 L563.46,249.82 L563.97,249.91 L564.48,249.99 L564.99,250.08 L565.49,250.16 L566.00,250.24 L566.51,250.33 L567.02,250.41 L567.53,250.49 L568.04,250.58 L568.54,250.66 L569.05,250.74 L569.56,250.83 L570.07,250.91 L570.58,250.99 L571.08,251.07 L571.59,251.16 L572.10,251.24 L572.61,251.32 L573.12,251.41 L573.62,251.49 L574.13,251.57 L574.64,251.66 L575.15,251.74 L575.66,251.82 L576.17,251.90 L576.67,251.99 L577.18,252.07 L577.69,252.15 L578.20,252.24 L578.71,252.32 L579.22,252.40 L579.72,252.49 L580.23,252.57 L580.74,252.65 L581.25,252.74 L581.76,252.82 L582.27,252.90 L582.78,252.99 L583.29,253.07 L583.79,253.15 L584.30,253.24 L584.81,253.32 L585.32,253.40 L585.83,253.49 L586.34,253.57 L586.85,253.66 L587.36,253.74 L587.87,253.82 L588.38,253.91 L588.89,253.99 L589.40,254.08 L589.91,254.16 L590.42,254.25 L590.93,254.33 L591.44,254.42 L591.95,254.50 L592.46,254.59 L592.97,254.67 L593.48,254.76 L593.99,254.84 L594.50,254.93 L595.01,255.01 L595.53,255.10 L596.04,255.18 L596.55,255.27 L597.06,255.36 L597.57,255.44 L598.08,255.53 L598.60,255.62 L599.11,255.70 L599.62,255.79 L600.13,255.88 L600.65,255.96 L601.16,256.05 L601.67,256.14 L602.18,256.23 L602.70,256.32 L603.21,256.40 L603.73,256.49 L604.24,256.58 L604.75,256.66 L605.27,256.75 L605.78,256.83 L606.29,256.92 L606.81,257.00 L607.32,257.07 L607.83,257.15 L608.35,257.22 L608.86,257.29 L609.37,257.36 L609.89,257.42 L610.40,257.48 L610.91,257.53 L611.42,257.58 L611.93,257.62 L612.45,257.66 L612.96,257.70 L613.47,257.72 L613.98,257.74 L614.49,257.76 L614.99,257.77 L615.50,257.77 L616.01,257.77 L616.52,257.76 L617.02,257.75 L617.53,257.73 L618.04,257.70 L618.54,257.67 L619.05,257.63 L619.55,257.59 L620.06,257.55 L620.56,257.50 L621.07,257.44 L621.57,257.38 L622.08,257.32 L622.58,257.25 L623.08,257.18 L623.59,257.10 L624.09,257.02 L624.59,256.93 L625.10,256.84 L625.60,256.75 L626.10,256.66 L626.60,256.56 L627.10,256.45 L627.61,256.35 L628.11,256.24 L628.61,256.12 L629.11,256.01 L629.61,255.89 L630.12,255.77 L630.62,255.65 L631.12,255.52 L631.62,255.39 L632.12,255.26 L632.62,255.13 L633.13,255.00 L633.63,254.86 L634.13,254.72 L634.63,254.58 L635.13,254.44 L635.64,254.30 L636.14,254.16 L636.64,254.01 L637.15,253.87 L637.65,253.72 L638.15,253.57 L638.66,253.42 L639.16,253.27 L639.66,253.12 L640.17,252.97 L640.67,252.82 L641.18,252.67 L641.68,252.52 L642.19,252.37 L642.70,252.22 L643.20,252.07 L643.71,251.92 L644.22,251.77 L644.72,251.62 L645.23,251.48 L645.74,251.33 L646.25,251.18 L646.76,251.04 L647.27,250.90 L647.78,250.76 L648.29,250.61 L648.80,250.48 L649.31,250.34 L649.83,250.20 L650.34,250.07 L650.85,249.94 L651.37,249.81 L651.88,249.68 L652.40,249.56 L652.91,249.43 L653.43,249.31 L653.95,249.20 L654.47,249.08 L654.99,248.97 L655.51,248.86 L656.03,248.76 L656.55,248.66 L657.07,248.56 L657.59,248.46 L658.12,248.37 L658.64,248.28 L659.17,248.20 L659.69,248.12 L660.21,248.05 L660.74,247.98 L661.26,247.92 L661.78,247.87 L662.30,247.82 L662.82,247.78 L663.34,247.75 L663.85,247.72 L664.37,247.70 L664.88,247.69 L665.38,247.69 L665.89,247.70 L666.39,247.72 L666.89,247.75 L667.38,247.79 L667.87,247.84 L668.36,247.90 L668.84,247.97 L669.32,248.06 L669.79,248.16 L670.26,248.27 L670.72,248.39 L671.18,248.53 L671.63,248.68 L672.07,248.84 L672.51,249.02 L672.94,249.21 L673.37,249.42 L673.78,249.65 L674.19,249.89 L674.59,250.15 L674.99,250.42 L675.38,250.71 L675.75,251.02 L676.12,251.35 L676.48,251.69 L676.84,252.06 L677.18,252.44 L677.51,252.84 L677.83,253.27 L678.15,253.71 L678.45,254.17 L678.74,254.65 L679.02,255.16 L679.29,255.69 L679.55,256.23 L679.80,256.81" stroke="#2a962a" stroke-width="1.1"/>
<path d="M389.50,268.50 L389.59,267.92 L389.69,267.34 L389.80,266.77 L389.93,266.21 L390.06,265.66 L390.21,265.12 L390.37,264.58 L390.53,264.04 L390.71,263.52 L390.90,263.00 L391.10,262.48 L391.30,261.98 L391.52,261.48 L391.75,260.98 L391.98,260.49 L392.22,260.00 L392.48,259.52 L392.73,259.05 L393.00,258.58 L393.28,258.11 L393.56,257.65 L393.85,257.19 L394.14,256.74 L394.44,256.29 L394.75,255.84 L395.07,255.40 L395.39,254.96 L395.71,254.53 L396.04,254.09 L396.38,253.66 L396.72,253.24 L397.07,252.81 L397.42,252.39 L397.77,251.97 L398.13,251.55 L398.49,251.13 L398.85,250.72 L399.22,250.30 L399.59,249.89 L399.96,249.48 L400.34,249.07 L400.72,248.66 L401.10,248.25 L401.48,247.84 L401.86,247.43 L402.24,247.02 L402.63,246.61 L403.01,246.20 L403.40,245.79 L403.78,245.38 L404.17,244.97 L404.55,244.56 L404.94,244.15 L405.32,243.73 L405.71,243.32 L406.10,242.91 L406.49,242.50 L406.87,242.10 L407.27,241.69 L407.66,241.28 L408.05,240.88 L408.45,240.48 L408.84,240.08 L409.24,239.69 L409.65,239.30 L410.05,238.91 L410.46,238.52 L410.86,238.14 L411.28,237.77 L411.69,237.39 L412.11,237.03 L412.53,236.67 L412.95,236.31 L413.38,235.96 L413.81,235.61 L414.25,235.28 L414.69,234.94 L415.13,234.62 L415.58,234.30 L416.03,233.99 L416.48,233.68 L416.94,233.39 L417.41,233.10 L417.88,232.82 L418.36,232.55 L418.84,232.29 L419.32,232.04 L419.82,231.79 L420.31,231.56 L420.81,231.33 L421.31,231.10 L421.82,230.88 L422.32,230.66 L422.83,230.44 L423.33,230.22 L423.84,230.00 L424.34,229.78 L424.85,229.56 L425.36,229.34 L425.86,229.13 L426.37,228.91 L426.88,228.70 L427.39,228.48 L427.90,228.27 L428.41,228.06 L428.91,227.85 L429.42,227.64 L429.93,227.43 L430.45,227.22 L430.96,227.01 L431.47,226.80 L431.98,226.60 L432.49,226.39 L433.01,226.19 L433.52,225.98 L434.03,225.78 L434.55,225.58 L435.06,225.38 L435.57,225.18 L436.09,224.98 L436.60,224.78 L437.12,224.58 L437.64,224.38 L438.15,224.19 L438.67,223.99 L439.19,223.80 L439.70,223.60 L440.22,223.41 L440.74,223.22 L441.26,223.03 L441.78,222.84 L442.30,222.65 L442.82,222.46 L443.34,222.27 L443.86,222.09 L444.38,221.90 L444.90,221.71 L445.42,221.53 L445.94,221.35 L446.46,221.16 L446.98,220.98 L447.51,220.80 L448.03,220.62 L448.55,220.44 L449.08,220.26 L449.60,220.09 L450.12,219.91 L450.65,219.74 L451.17,219.56 L451.70,219.39 L452.22,219.21 L452.75,219.04 L453.28,218.87 L453.80,218.70 L454.33,218.53 L454.86,218.36 L455.38,218.20 L455.91,218.03 L456.44,217.86 L456.97,217.70 L457.50,217.54 L458.03,217.37 L458.56,217.21 L459.09,217.05 L459.62,216.89 L460.15,216.73 L460.68,216.57 L461.21,216.42 L461.74,216.26 L462.27,216.10 L462.80,215.95 L463.33,215.80 L463.86,215.64 L464.40,215.49 L464.93,215.34 L465.46,215.19 L466.00,215.04 L466.53,214.89 L467.06,214.75 L467.60,214.60 L468.13,214.45 L468.67,214.31 L469.20,214.17 L469.74,214.02 L470.27,213.88 L470.81,213.74 L471.34,213.60 L471.88,213.46 L472.42,213.33 L472.95,213.19 L473.49,213.05 L474.03,212.92 L474.57,212.79 L475.10,212.65 L475.64,212.52 L476.18,212.39 L476.72,212.26 L477.26,212.13 L477.80,212.00 L478.34,211.88 L478.87,211.75 L479.41,211.62 L479.95,211.50 L480.49,211.38 L481.04,211.26 L481.58,211.13 L482.12,211.01 L482.66,210.89 L483.20,210.78 L483.74,210.66 L484.28,210.54 L484.82,210.43 L485.37,210.31 L485.91,210.20 L486.45,210.09 L486.99,209.98 L487.54,209.87 L488.08,209.76 L488.62,209.65 L489.17,209.54 L489.71,209.44 L490.26,209.33 L490.80,209.23 L491.35,209.12 L491.89,209.02 L492.44,208.92 L492.98,208.82 L493.53,208.72 L494.07,208.62 L494.62,208.53 L495.16,208.43 L495.71,208.33 L496.26,208.24 L496.80,208.15 L497.35,208.06 L497.90,207.96 L498.44,207.87 L498.99,207.79 L499.54,207.70 L500.09,207.61 L500.63,207.53 L501.18,207.44 L501.73,207.36 L502.28,207.27 L502.83,207.19 L503.37,207.11 L503.92,207.03 L504.47,206.96 L505.02,206.88 L505.57,206.80 L506.12,206.73 L506.67,206.65 L507.22,206.58 L507.77,206.51 L508.32,206.44 L508.87,206.37 L509.42,206.30 L509.97,206.23 L510.52,206.16 L511.07,206.10 L511.62,206.03 L512.17,205.97 L512.72,205.91 L513.28,205.85 L513.83,205.79 L514.38,205.73 L514.93,205.67 L515.48,205.61 L516.04,205.56 L516.59,205.50 L517.14,205.45 L517.69,205.40 L518.24,205.34 L518.80,205.29 L519.35,205.24 L519.90,205.20 L520.46,205.15 L521.01,205.10 L521.56,205.06 L522.12,205.01 L522.67,204.97 L523.22,204.93 L523.78,204.89 L524.33,204.85 L524.88,204.81 L525.44,204.77 L525.99,204.74 L526.55,204.70 L527.10,204.67 L527.66,204.64 L528.21,204.61 L528.76,204.58 L529.32,204.55 L529.87,204.52 L530.43,204.49 L530.98,204.47 L531.54,204.44 L532.09,204.42 L532.65,204.40 L533.20,204.37 L533.76,204.35 L534.32,204.33 L534.87,204.32 L535.43,204.30 L535.98,204.28 L536.54,204.27 L537.09,204.26 L537.65,204.25 L538.21,204.23 L538.76,204.22 L539.32,204.22 L539.87,204.21 L540.43,204.20 L540.99,204.20 L541.54,204.19 L542.10,204.19 L542.65,204.19 L543.21,204.19 L543.77,204.19 L544.32,204.19 L544.88,204.19 L545.44,204.20 L545.99,204.20 L546.55,204.21 L547.11,204.22 L547.66,204.23 L548.22,204.24 L548.78,204.25 L549.34,204.26 L549.89,204.27 L550.45,204.29 L551.01,204.31 L551.56,204.32 L552.12,204.34 L552.68,204.36 L553.23,204.38 L553.79,204.40 L554.35,204.43 L554.91,204.45 L555.46,204.48 L556.02,204.51 L556.58,204.53 L557.13,204.56 L557.69,204.60 L558.25,204.63 L558.80,204.66 L559.36,204.70 L559.92,204.73 L560.47,204.77 L561.03,204.81 L561.58,204.85 L562.14,204.90 L562.69,204.94 L563.25,204.98 L563.81,205.03 L564.36,205.08 L564.92,205.13 L565.47,205.18 L566.02,205.23 L566.58,205.29 L567.13,205.34 L567.69,205.40 L568.24,205.46 L568.79,205.52 L569.35,205.58 L569.90,205.64 L570.45,205.71 L571.00,205.77 L571.55,205.84 L572.10,205.91 L572.66,205.98 L573.21,206.05 L573.76,206.13 L574.31,206.20 L574.86,206.28 L575.41,206.36 L575.95,206.44 L576.50,206.53 L577.05,206.61 L577.60,206.70 L578.14,206.79 L578.69,206.88 L579.24,206.97 L579.78,207.06 L580.33,207.16 L580.87,207.25 L581.42,207.35 L581.96,207.45 L582.50,207.55 L583.05,207.66 L583.59,207.77 L584.13,207.87 L584.67,207.98 L585.21,208.09 L585.75,208.21 L586.29,208.32 L586.83,208.44 L587.37,208.56 L587.91,208.68 L588.44,208.81 L588.98,208.93 L589.52,209.06 L590.05,209.19 L590.59,209.32 L591.12,209.45 L591.65,209.59 L592.19,209.73 L592.72,209.86 L593.25,210.01 L593.78,210.15 L594.31,210.30 L594.84,210.44 L595.37,210.59 L595.89,210.74 L596.42,210.90 L596.95,211.05 L597.47,211.21 L598.00,211.37 L598.52,211.54 L599.04,211.70 L599.56,211.87 L600.09,212.04 L600.61,212.21 L601.13,212.38 L601.64,212.56 L602.16,212.74 L602.68,212.92 L603.19,213.10 L603.71,213.28 L604.22,213.47 L604.74,213.66 L605.25,213.85 L605.76,214.05 L606.27,214.24 L606.78,214.44 L607.29,214.64 L607.80,214.85 L608.30,215.05 L608.81,215.26 L609.32,215.47 L609.82,215.69 L610.32,215.90 L610.82,216.12 L611.32,216.34 L611.82,216.56 L612.32,216.79 L612.82,217.02 L613.32,217.25 L613.81,217.48 L614.31,217.72 L614.80,217.95 L615.29,218.19 L615.78,218.44 L616.27,218.68 L616.76,218.93 L617.25,219.18 L617.74,219.44 L618.22,219.69 L618.70,219.95 L619.19,220.21 L619.67,220.48 L620.15,220.74 L620.63,221.01 L621.11,221.28 L621.58,221.56 L622.06,221.84 L622.53,222.12 L623.01,222.40 L623.48,222.68 L623.95,222.97 L624.42,223.26 L624.89,223.56 L625.35,223.85 L625.82,224.15 L626.28,224.46 L626.75,224.76 L627.21,225.07 L627.67,225.38 L628.13,225.69 L628.58,226.01 L629.04,226.33 L629.49,226.65 L629.95,226.98 L630.40,227.30 L630.85,227.63 L631.30,227.97 L631.74,228.30 L632.19,228.64 L632.63,228.98 L633.08,229.33 L633.52,229.67 L633.96,230.02 L634.40,230.38 L634.83,230.73 L635.27,231.09 L635.70,231.45 L636.13,231.81 L636.56,232.17 L636.99,232.54 L637.42,232.91 L637.84,233.28 L638.27,233.65 L638.69,234.03 L639.11,234.40 L639.52,234.78 L639.94,235.17 L640.36,235.55 L640.77,235.94 L641.18,236.32 L641.59,236.71 L642.00,237.11 L642.40,237.50 L642.80,237.90 L643.21,238.29 L643.61,238.69 L644.00,239.10 L644.40,239.50 L644.79,239.90 L645.18,240.31 L645.57,240.72 L645.96,241.13 L646.35,241.54 L646.73,241.96 L647.11,242.37 L647.49,242.79 L647.87,243.21 L648.25,243.63 L648.62,244.05 L648.99,244.47 L649.36,244.89 L649.73,245.31 L650.10,245.74 L650.47,246.16 L650.83,246.59 L651.20,247.01 L651.56,247.44 L651.92,247.86 L652.29,248.28 L652.65,248.71 L653.01,249.13 L653.38,249.55 L653.74,249.97 L654.10,250.39 L654.47,250.81 L654.83,251.22 L655.20,251.64 L655.56,252.05 L655.93,252.46 L656.30,252.86 L656.67,253.27 L657.04,253.67 L657.41,254.07 L657.79,254.46 L658.17,254.86 L658.55,255.25 L658.93,255.63 L659.31,256.01 L659.70,256.39 L660.09,256.76 L660.48,257.13 L660.88,257.50 L661.27,257.86 L661.68,258.21 L662.08,258.56 L662.49,258.91 L662.91,259.24 L663.33,259.56 L663.75,259.87 L664.18,260.16 L664.62,260.43 L665.07,260.69 L665.52,260.92 L665.98,261.12 L666.45,261.30 L666.93,261.45 L667.42,261.58 L667.92,261.67 L668.42,261.74 L668.93,261.79 L669.45,261.81 L669.97,261.81 L670.50,261.79 L671.04,261.74 L671.58,261.68 L672.12,261.60 L672.67,261.50 L673.22,261.38 L673.77,261.25 L674.32,261.11 L674.87,260.95 L675.42,260.78 L675.98,260.59 L676.53,260.40 L677.08,260.19 L677.63,259.98 L678.18,259.76 L678.72,259.54 L679.26,259.30 L679.80,259.07" stroke="#ff1a1a" stroke-width="1.1" stroke-dasharray="4.2 2.2"/>
<path d="M389.50,268.50 L389.71,267.87 L389.92,267.25 L390.14,266.63 L390.36,266.00 L390.59,265.39 L390.82,264.77 L391.06,264.15 L391.30,263.54 L391.54,262.93 L391.79,262.31 L392.04,261.71 L392.30,261.10 L392.56,260.49 L392.83,259.89 L393.10,259.29 L393.37,258.69 L393.65,258.09 L393.93,257.50 L394.22,256.90 L394.51,256.31 L394.80,255.72 L395.10,255.14 L395.40,254.55 L395.71,253.97 L396.02,253.39 L396.33,252.81 L396.65,252.23 L396.98,251.65 L397.30,251.08 L397.63,250.51 L397.96,249.94 L398.30,249.38 L398.64,248.81 L398.99,248.25 L399.34,247.69 L399.69,247.13 L400.04,246.58 L400.40,246.02 L400.77,245.47 L401.13,244.92 L401.50,244.38 L401.88,243.83 L402.25,243.29 L402.64,242.75 L403.02,242.21 L403.41,241.68 L403.80,241.15 L404.19,240.62 L404.59,240.09 L404.99,239.57 L405.39,239.04 L405.80,238.52 L406.21,238.01 L406.63,237.49 L407.04,236.98 L407.46,236.47 L407.89,235.96 L408.31,235.46 L408.74,234.95 L409.18,234.45 L409.61,233.96 L410.05,233.46 L410.49,232.97 L410.94,232.48 L411.39,231.99 L411.84,231.51 L412.29,231.03 L412.75,230.55 L413.21,230.08 L413.67,229.60 L414.13,229.13 L414.60,228.67 L415.07,228.20 L415.55,227.74 L416.02,227.28 L416.50,226.82 L416.98,226.37 L417.46,225.92 L417.95,225.47 L418.44,225.03 L418.93,224.59 L419.43,224.15 L419.92,223.71 L420.42,223.28 L420.92,222.85 L421.43,222.42 L421.93,222.00 L422.44,221.58 L422.95,221.16 L423.47,220.75 L423.98,220.34 L424.50,219.93 L425.02,219.52 L425.54,219.12 L426.07,218.72 L426.59,218.32 L427.12,217.92 L427.65,217.53 L428.18,217.14 L428.72,216.76 L429.26,216.37 L429.79,215.99 L430.33,215.61 L430.88,215.23 L431.42,214.86 L431.97,214.49 L432.52,214.12 L433.07,213.75 L433.62,213.39 L434.17,213.03 L434.72,212.67 L435.28,212.31 L435.84,211.95 L436.40,211.60 L436.96,211.25 L437.52,210.90 L438.09,210.55 L438.65,210.21 L439.22,209.87 L439.79,209.52 L440.36,209.19 L440.93,208.85 L441.50,208.51 L442.07,208.18 L442.65,207.85 L443.22,207.52 L443.80,207.19 L444.38,206.86 L444.96,206.54 L445.54,206.22 L446.12,205.90 L446.70,205.58 L447.28,205.26 L447.87,204.94 L448.45,204.63 L449.04,204.31 L449.63,204.00 L450.22,203.69 L450.80,203.38 L451.39,203.07 L451.98,202.76 L452.57,202.46 L453.17,202.15 L453.76,201.85 L454.35,201.55 L454.94,201.25 L455.54,200.94 L456.13,200.65 L456.73,200.35 L457.32,200.05 L457.92,199.75 L458.51,199.46 L459.11,199.16 L459.71,198.87 L460.30,198.58 L460.90,198.29 L461.50,198.00 L462.10,197.70 L462.69,197.41 L463.29,197.13 L463.89,196.84 L464.49,196.55 L465.09,196.26 L465.68,195.97 L466.28,195.69 L466.88,195.40 L467.48,195.12 L468.08,194.83 L468.67,194.55 L469.27,194.26 L469.87,193.98 L470.47,193.69 L471.07,193.41 L471.66,193.13 L472.26,192.84 L472.86,192.56 L473.45,192.28 L474.05,192.00 L474.65,191.72 L475.24,191.44 L475.84,191.15 L476.44,190.87 L477.04,190.60 L477.63,190.32 L478.23,190.04 L478.83,189.76 L479.42,189.48 L480.02,189.20 L480.62,188.93 L481.21,188.65 L481.81,188.37 L482.41,188.10 L483.00,187.82 L483.60,187.55 L484.20,187.27 L484.79,187.00 L485.39,186.72 L485.99,186.45 L486.58,186.18 L487.18,185.91 L487.78,185.63 L488.37,185.36 L488.97,185.09 L489.57,184.82 L490.17,184.55 L490.76,184.28 L491.36,184.01 L491.96,183.74 L492.56,183.48 L493.16,183.21 L493.76,182.94 L494.35,182.68 L494.95,182.41 L495.55,182.14 L496.15,181.88 L496.75,181.62 L497.35,181.35 L497.95,181.09 L498.55,180.83 L499.15,180.56 L499.75,180.30 L500.35,180.04 L500.95,179.78 L501.55,179.52 L502.15,179.26 L502.75,179.00 L503.35,178.74 L503.96,178.48 L504.56,178.23 L505.16,177.97 L505.76,177.71 L506.37,177.46 L506.97,177.20 L507.57,176.95 L508.18,176.70 L508.78,176.44 L509.38,176.19 L509.99,175.94 L510.59,175.69 L511.20,175.44 L511.81,175.19 L512.41,174.94 L513.02,174.69 L513.62,174.44 L514.23,174.19 L514.84,173.94 L515.45,173.70 L516.06,173.45 L516.66,173.21 L517.27,172.96 L517.88,172.72 L518.49,172.47 L519.10,172.23 L519.71,171.99 L520.33,171.75 L520.94,171.51 L521.55,171.27 L522.16,171.03 L522.77,170.79 L523.39,170.55 L524.00,170.31 L524.62,170.08 L525.23,169.84 L525.85,169.61 L526.46,169.37 L527.08,169.14 L527.70,168.91 L528.31,168.67 L528.93,168.44 L529.55,168.21 L530.17,167.98 L530.79,167.75 L531.41,167.52 L532.03,167.29 L532.65,167.07 L533.27,166.84 L533.89,166.61 L534.52,166.39 L535.14,166.17 L535.77,165.94 L536.39,165.72 L537.02,165.50 L537.64,165.28 L538.27,165.05 L538.90,164.83 L539.52,164.62 L540.15,164.40 L540.78,164.18 L541.41,163.96 L542.04,163.75 L542.67,163.53 L543.30,163.32 L543.94,163.10 L544.57,162.89 L545.20,162.68 L545.84,162.47 L546.47,162.26 L547.11,162.05 L547.75,161.84 L548.38,161.63 L549.02,161.43 L549.66,161.22 L550.30,161.01 L550.94,160.81 L551.58,160.61 L552.22,160.40 L552.87,160.20 L553.51,160.00 L554.15,159.80 L554.80,159.60 L555.44,159.41 L556.09,159.21 L556.74,159.02 L557.38,158.82 L558.03,158.63 L558.68,158.44 L559.33,158.25 L559.98,158.06 L560.63,157.88 L561.28,157.69 L561.93,157.51 L562.58,157.33 L563.23,157.15 L563.89,156.98 L564.54,156.80 L565.19,156.63 L565.85,156.46 L566.50,156.29 L567.15,156.12 L567.81,155.96 L568.46,155.80 L569.12,155.64 L569.77,155.48 L570.43,155.33 L571.09,155.17 L571.74,155.03 L572.40,154.88 L573.06,154.73 L573.71,154.59 L574.37,154.45 L575.03,154.32 L575.68,154.19 L576.34,154.06 L577.00,153.93 L577.66,153.81 L578.32,153.69 L578.97,153.57 L579.63,153.45 L580.29,153.34 L580.95,153.24 L581.60,153.13 L582.26,153.03 L582.92,152.93 L583.58,152.84 L584.24,152.75 L584.89,152.66 L585.55,152.58 L586.21,152.50 L586.87,152.43 L587.52,152.36 L588.18,152.29 L588.84,152.23 L589.49,152.17 L590.15,152.11 L590.81,152.06 L591.46,152.02 L592.12,151.97 L592.77,151.94 L593.43,151.90 L594.08,151.87 L594.74,151.85 L595.39,151.83 L596.05,151.81 L596.70,151.80 L597.35,151.80 L598.00,151.80 L598.66,151.80 L599.31,151.81 L599.96,151.82 L600.61,151.84 L601.26,151.86 L601.91,151.89 L602.56,151.93 L603.21,151.97 L603.86,152.01 L604.50,152.06 L605.15,152.12 L605.80,152.18 L606.44,152.24 L607.09,152.31 L607.73,152.39 L608.37,152.47 L609.02,152.56 L609.66,152.66 L610.30,152.76 L610.94,152.86 L611.58,152.98 L612.22,153.09 L612.86,153.22 L613.50,153.35 L614.13,153.48 L614.77,153.63 L615.41,153.78 L616.04,153.93 L616.67,154.09 L617.30,154.26 L617.94,154.44 L618.56,154.62 L619.19,154.80 L619.82,155.00 L620.44,155.20 L621.06,155.41 L621.68,155.62 L622.30,155.84 L622.92,156.07 L623.53,156.31 L624.14,156.55 L624.74,156.80 L625.35,157.05 L625.95,157.32 L626.55,157.59 L627.14,157.86 L627.73,158.15 L628.32,158.44 L628.90,158.74 L629.48,159.05 L630.05,159.36 L630.62,159.69 L631.19,160.02 L631.75,160.35 L632.31,160.70 L632.86,161.05 L633.41,161.41 L633.95,161.78 L634.49,162.16 L635.02,162.54 L635.54,162.93 L636.06,163.34 L636.58,163.74 L637.09,164.16 L637.59,164.59 L638.09,165.02 L638.58,165.46 L639.06,165.91 L639.54,166.37 L640.01,166.84 L640.47,167.31 L640.93,167.79 L641.38,168.28 L641.83,168.78 L642.27,169.28 L642.70,169.79 L643.13,170.30 L643.55,170.82 L643.97,171.35 L644.38,171.88 L644.79,172.41 L645.19,172.95 L645.58,173.50 L645.97,174.05 L646.36,174.60 L646.74,175.15 L647.11,175.71 L647.48,176.27 L647.85,176.83 L648.21,177.40 L648.57,177.96 L648.92,178.53 L649.27,179.10 L649.61,179.67 L649.95,180.25 L650.29,180.82 L650.62,181.40 L650.94,181.98 L651.27,182.56 L651.59,183.14 L651.90,183.72 L652.21,184.31 L652.52,184.90 L652.83,185.48 L653.13,186.07 L653.42,186.66 L653.72,187.26 L654.01,187.85 L654.29,188.45 L654.57,189.04 L654.85,189.64 L655.13,190.24 L655.40,190.84 L655.67,191.45 L655.94,192.05 L656.21,192.65 L656.47,193.26 L656.73,193.87 L656.98,194.48 L657.23,195.09 L657.48,195.70 L657.73,196.31 L657.98,196.92 L658.22,197.53 L658.46,198.15 L658.70,198.77 L658.93,199.38 L659.16,200.00 L659.40,200.62 L659.62,201.24 L659.85,201.86 L660.08,202.48 L660.30,203.10 L660.52,203.72 L660.74,204.35 L660.95,204.97 L661.17,205.60 L661.38,206.22 L661.60,206.85 L661.81,207.48 L662.01,208.10 L662.22,208.73 L662.43,209.36 L662.63,209.99 L662.84,210.62 L663.04,211.25 L663.24,211.88 L663.44,212.51 L663.64,213.15 L663.84,213.78 L664.04,214.41 L664.23,215.04 L664.43,215.68 L664.62,216.31 L664.82,216.94 L665.01,217.58 L665.21,218.21 L665.40,218.85 L665.59,219.48 L665.78,220.11 L665.97,220.75 L666.17,221.38 L666.36,222.02 L666.55,222.65 L666.74,223.29 L666.93,223.92 L667.12,224.56 L667.31,225.19 L667.51,225.83 L667.70,226.46 L667.89,227.10 L668.08,227.73 L668.28,228.37 L668.47,229.00 L668.66,229.63 L668.86,230.27 L669.05,230.90 L669.25,231.53 L669.45,232.16 L669.64,232.80 L669.84,233.43 L670.04,234.06 L670.24,234.69 L670.45,235.32 L670.65,235.95 L670.85,236.58 L671.06,237.21 L671.26,237.84 L671.47,238.47 L671.68,239.09 L671.89,239.72 L672.11,240.34 L672.32,240.97 L672.54,241.59 L672.75,242.22 L672.97,242.84 L673.19,243.46 L673.42,244.08 L673.64,244.70 L673.87,245.32 L674.10,245.94 L674.33,246.56 L674.56,247.18 L674.80,247.79 L675.04,248.41 L675.28,249.02 L675.52,249.63 L675.77,250.25 L676.02,250.86 L676.27,251.47 L676.52,252.08 L676.78,252.68 L677.04,253.29 L677.30,253.89 L677.57,254.50 L677.83,255.10 L678.10,255.70 L678.38,256.30 L678.66,256.90 L678.94,257.50 L679.22,258.09 L679.51,258.69 L679.80,259.28" stroke="#1010ff" stroke-width="1.05" stroke-dasharray="3.6 1.1 1 1.1"/>
<path d="M389.50,268.50 L389.71,267.77 L389.93,267.05 L390.16,266.33 L390.39,265.61 L390.62,264.89 L390.86,264.18 L391.11,263.47 L391.37,262.77 L391.63,262.07 L391.89,261.37 L392.16,260.67 L392.44,259.98 L392.72,259.29 L393.01,258.60 L393.30,257.92 L393.60,257.24 L393.90,256.57 L394.21,255.89 L394.52,255.22 L394.84,254.55 L395.16,253.89 L395.49,253.23 L395.82,252.57 L396.16,251.91 L396.51,251.26 L396.86,250.61 L397.21,249.96 L397.57,249.32 L397.93,248.68 L398.30,248.04 L398.67,247.40 L399.04,246.77 L399.42,246.14 L399.81,245.51 L400.20,244.89 L400.59,244.27 L400.99,243.65 L401.39,243.03 L401.80,242.42 L402.21,241.81 L402.63,241.20 L403.05,240.59 L403.47,239.99 L403.90,239.39 L404.33,238.79 L404.76,238.20 L405.20,237.60 L405.64,237.01 L406.09,236.43 L406.54,235.84 L406.99,235.26 L407.45,234.68 L407.91,234.10 L408.37,233.53 L408.84,232.95 L409.31,232.38 L409.79,231.81 L410.26,231.25 L410.74,230.68 L411.23,230.12 L411.72,229.57 L412.21,229.01 L412.70,228.45 L413.19,227.90 L413.69,227.35 L414.20,226.81 L414.70,226.26 L415.21,225.72 L415.72,225.18 L416.23,224.64 L416.75,224.10 L417.26,223.57 L417.79,223.03 L418.31,222.50 L418.83,221.97 L419.36,221.45 L419.89,220.92 L420.43,220.40 L420.96,219.88 L421.50,219.36 L422.04,218.85 L422.58,218.33 L423.12,217.82 L423.67,217.31 L424.22,216.80 L424.76,216.30 L425.32,215.79 L425.87,215.29 L426.42,214.79 L426.98,214.29 L427.54,213.79 L428.10,213.29 L428.66,212.80 L429.22,212.31 L429.79,211.82 L430.35,211.33 L430.92,210.84 L431.49,210.35 L432.06,209.87 L432.63,209.39 L433.20,208.91 L433.77,208.43 L434.35,207.95 L434.92,207.48 L435.50,207.00 L436.08,206.53 L436.66,206.06 L437.23,205.59 L437.81,205.12 L438.40,204.65 L438.98,204.19 L439.56,203.72 L440.14,203.26 L440.73,202.80 L441.31,202.34 L441.90,201.88 L442.48,201.43 L443.07,200.97 L443.66,200.52 L444.25,200.06 L444.84,199.61 L445.43,199.16 L446.02,198.71 L446.61,198.27 L447.20,197.82 L447.80,197.38 L448.39,196.93 L448.99,196.49 L449.58,196.05 L450.18,195.61 L450.78,195.17 L451.37,194.74 L451.97,194.30 L452.57,193.87 L453.17,193.44 L453.77,193.00 L454.38,192.57 L454.98,192.14 L455.58,191.72 L456.18,191.29 L456.79,190.86 L457.39,190.44 L458.00,190.02 L458.61,189.59 L459.21,189.17 L459.82,188.75 L460.43,188.34 L461.04,187.92 L461.65,187.50 L462.26,187.09 L462.87,186.67 L463.48,186.26 L464.10,185.85 L464.71,185.44 L465.32,185.03 L465.94,184.62 L466.55,184.21 L467.17,183.81 L467.79,183.40 L468.40,183.00 L469.02,182.59 L469.64,182.19 L470.26,181.79 L470.88,181.39 L471.50,180.99 L472.12,180.59 L472.74,180.19 L473.36,179.80 L473.98,179.40 L474.61,179.01 L475.23,178.61 L475.85,178.22 L476.48,177.83 L477.11,177.44 L477.73,177.05 L478.36,176.66 L478.98,176.27 L479.61,175.88 L480.24,175.50 L480.87,175.11 L481.50,174.73 L482.13,174.34 L482.76,173.96 L483.39,173.58 L484.02,173.20 L484.65,172.82 L485.28,172.44 L485.92,172.06 L486.55,171.68 L487.18,171.30 L487.82,170.92 L488.45,170.55 L489.09,170.17 L489.72,169.80 L490.36,169.42 L491.00,169.05 L491.63,168.68 L492.27,168.31 L492.91,167.93 L493.55,167.56 L494.19,167.19 L494.83,166.83 L495.47,166.46 L496.11,166.09 L496.75,165.72 L497.39,165.35 L498.03,164.99 L498.67,164.62 L499.32,164.26 L499.96,163.89 L500.60,163.53 L501.25,163.17 L501.89,162.81 L502.53,162.44 L503.18,162.08 L503.82,161.72 L504.47,161.36 L505.12,161.00 L505.76,160.64 L506.41,160.28 L507.06,159.92 L507.70,159.57 L508.35,159.21 L509.00,158.85 L509.65,158.49 L510.30,158.14 L510.95,157.78 L511.60,157.43 L512.25,157.07 L512.90,156.72 L513.55,156.36 L514.20,156.01 L514.85,155.66 L515.50,155.30 L516.15,154.95 L516.80,154.60 L517.46,154.25 L518.11,153.90 L518.76,153.55 L519.42,153.19 L520.07,152.84 L520.72,152.49 L521.38,152.14 L522.03,151.79 L522.69,151.44 L523.34,151.10 L524.00,150.75 L524.65,150.40 L525.31,150.05 L525.96,149.70 L526.62,149.35 L527.28,149.00 L527.93,148.66 L528.59,148.31 L529.25,147.96 L529.90,147.62 L530.56,147.27 L531.22,146.92 L531.88,146.58 L532.53,146.23 L533.19,145.88 L533.85,145.54 L534.51,145.19 L535.17,144.84 L535.83,144.50 L536.49,144.15 L537.15,143.81 L537.81,143.46 L538.47,143.12 L539.13,142.77 L539.79,142.42 L540.45,142.08 L541.11,141.73 L541.77,141.39 L542.43,141.04 L543.09,140.70 L543.75,140.35 L544.41,140.01 L545.07,139.66 L545.73,139.31 L546.39,138.97 L547.06,138.62 L547.72,138.28 L548.38,137.93 L549.04,137.59 L549.70,137.24 L550.36,136.89 L551.03,136.55 L551.69,136.20 L552.35,135.85 L553.01,135.51 L553.67,135.16 L554.34,134.81 L555.00,134.47 L555.66,134.12 L556.32,133.77 L556.99,133.42 L557.65,133.08 L558.31,132.73 L558.97,132.38 L559.64,132.03 L560.30,131.68 L560.96,131.33 L561.63,130.98 L562.29,130.63 L562.95,130.28 L563.61,129.93 L564.28,129.58 L564.94,129.23 L565.60,128.88 L566.26,128.53 L566.93,128.18 L567.59,127.83 L568.25,127.47 L568.92,127.12 L569.58,126.77 L570.24,126.42 L570.90,126.06 L571.57,125.71 L572.23,125.35 L572.89,125.00 L573.55,124.64 L574.21,124.29 L574.88,123.93 L575.54,123.57 L576.20,123.22 L576.86,122.86 L577.52,122.50 L578.19,122.14 L578.85,121.78 L579.51,121.42 L580.17,121.06 L580.83,120.70 L581.49,120.34 L582.15,119.98 L582.82,119.62 L583.48,119.25 L584.14,118.89 L584.80,118.53 L585.46,118.16 L586.12,117.80 L586.78,117.44 L587.44,117.07 L588.10,116.71 L588.76,116.35 L589.42,115.99 L590.08,115.63 L590.75,115.27 L591.41,114.91 L592.07,114.56 L592.73,114.21 L593.40,113.86 L594.06,113.51 L594.72,113.16 L595.39,112.82 L596.05,112.48 L596.72,112.14 L597.39,111.81 L598.05,111.48 L598.72,111.16 L599.39,110.83 L600.06,110.52 L600.73,110.20 L601.40,109.90 L602.08,109.59 L602.75,109.29 L603.42,109.00 L604.10,108.71 L604.78,108.43 L605.45,108.15 L606.13,107.88 L606.81,107.62 L607.49,107.36 L608.18,107.11 L608.86,106.86 L609.55,106.62 L610.23,106.39 L610.92,106.17 L611.61,105.95 L612.30,105.74 L613.00,105.54 L613.69,105.35 L614.39,105.17 L615.09,104.99 L615.79,104.83 L616.49,104.67 L617.19,104.52 L617.90,104.38 L618.60,104.25 L619.31,104.13 L620.02,104.02 L620.74,103.92 L621.45,103.83 L622.17,103.75 L622.89,103.68 L623.61,103.63 L624.34,103.58 L625.06,103.54 L625.79,103.52 L626.52,103.51 L627.26,103.51 L627.99,103.52 L628.73,103.55 L629.47,103.58 L630.22,103.63 L630.96,103.69 L631.71,103.77 L632.46,103.86 L633.21,103.96 L633.95,104.08 L634.70,104.21 L635.45,104.35 L636.19,104.51 L636.93,104.68 L637.66,104.87 L638.39,105.07 L639.12,105.29 L639.84,105.53 L640.55,105.78 L641.25,106.04 L641.95,106.32 L642.64,106.62 L643.32,106.94 L643.98,107.27 L644.64,107.62 L645.29,107.98 L645.92,108.37 L646.54,108.77 L647.14,109.19 L647.74,109.62 L648.31,110.08 L648.87,110.55 L649.42,111.04 L649.95,111.55 L650.47,112.07 L650.98,112.60 L651.47,113.15 L651.95,113.71 L652.41,114.28 L652.86,114.87 L653.30,115.46 L653.73,116.07 L654.14,116.68 L654.54,117.30 L654.93,117.93 L655.31,118.57 L655.68,119.21 L656.03,119.86 L656.38,120.52 L656.71,121.19 L657.04,121.86 L657.36,122.53 L657.66,123.21 L657.96,123.90 L658.25,124.59 L658.53,125.29 L658.80,125.99 L659.07,126.70 L659.32,127.41 L659.57,128.12 L659.82,128.84 L660.06,129.56 L660.29,130.28 L660.51,131.01 L660.73,131.74 L660.95,132.47 L661.16,133.20 L661.36,133.94 L661.56,134.67 L661.76,135.41 L661.95,136.15 L662.14,136.89 L662.33,137.63 L662.52,138.37 L662.70,139.11 L662.88,139.85 L663.06,140.58 L663.24,141.32 L663.41,142.06 L663.59,142.79 L663.76,143.52 L663.94,144.25 L664.11,144.98 L664.29,145.71 L664.46,146.43 L664.63,147.16 L664.80,147.88 L664.98,148.60 L665.15,149.33 L665.32,150.05 L665.49,150.76 L665.65,151.48 L665.82,152.20 L665.99,152.92 L666.15,153.63 L666.32,154.35 L666.48,155.06 L666.64,155.78 L666.81,156.49 L666.97,157.20 L667.12,157.92 L667.28,158.63 L667.44,159.34 L667.59,160.06 L667.75,160.77 L667.90,161.49 L668.05,162.20 L668.20,162.92 L668.34,163.63 L668.49,164.35 L668.63,165.07 L668.77,165.79 L668.91,166.51 L669.05,167.23 L669.19,167.95 L669.32,168.67 L669.46,169.39 L669.59,170.12 L669.72,170.84 L669.85,171.57 L669.97,172.29 L670.10,173.02 L670.22,173.75 L670.35,174.48 L670.47,175.21 L670.59,175.94 L670.71,176.67 L670.83,177.40 L670.95,178.13 L671.06,178.86 L671.18,179.59 L671.29,180.33 L671.41,181.06 L671.52,181.80 L671.63,182.53 L671.74,183.27 L671.86,184.00 L671.97,184.74 L672.08,185.47 L672.19,186.21 L672.30,186.95 L672.41,187.68 L672.51,188.42 L672.62,189.16 L672.73,189.90 L672.84,190.64 L672.95,191.37 L673.06,192.11 L673.16,192.85 L673.27,193.59 L673.38,194.33 L673.49,195.07 L673.60,195.81 L673.71,196.54 L673.82,197.28 L673.93,198.02 L674.04,198.76 L674.15,199.50 L674.26,200.24 L674.38,200.98 L674.49,201.71 L674.60,202.45 L674.72,203.19 L674.83,203.93 L674.95,204.66 L675.06,205.40 L675.18,206.14 L675.30,206.87 L675.42,207.61 L675.54,208.34 L675.67,209.08 L675.79,209.81 L675.92,210.55 L676.04,211.28 L676.17,212.01 L676.30,212.75 L676.43,213.48 L676.56,214.21 L676.70,214.94 L676.83,215.67 L676.97,216.40 L677.11,217.13 L677.25,217.86 L677.39,218.59 L677.54,219.31 L677.69,220.04 L677.83,220.76 L677.99,221.49 L678.14,222.21 L678.29,222.93 L678.45,223.65 L678.61,224.37 L678.77,225.09 L678.94,225.81 L679.11,226.53 L679.28,227.25 L679.45,227.96 L679.62,228.68 L679.80,229.39" stroke="#000" stroke-width="1.6"/>
</g>
<path d="M389.50,268.5 v-3.5 M389.50,17.0 v3.5 M421.76,268.5 v-3.5 M421.76,17.0 v3.5 M454.01,268.5 v-3.5 M454.01,17.0 v3.5 M486.27,268.5 v-3.5 M486.27,17.0 v3.5 M518.52,268.5 v-3.5 M518.52,17.0 v3.5 M550.78,268.5 v-3.5 M550.78,17.0 v3.5 M583.03,268.5 v-3.5 M583.03,17.0 v3.5 M615.29,268.5 v-3.5 M615.29,17.0 v3.5 M647.54,268.5 v-3.5 M647.54,17.0 v3.5 M679.80,268.5 v-3.5 M679.80,17.0 v3.5 M389.5,268.50 h3.5 M679.8,268.50 h-3.5 M389.5,226.58 h3.5 M679.8,226.58 h-3.5 M389.5,184.67 h3.5 M679.8,184.67 h-3.5 M389.5,142.75 h3.5 M679.8,142.75 h-3.5 M389.5,100.83 h3.5 M679.8,100.83 h-3.5 M389.5,58.92 h3.5 M679.8,58.92 h-3.5 M389.5,17.00 h3.5 M679.8,17.00 h-3.5" stroke="#2e2e2e" stroke-width="1" fill="none"/>
<rect x="389.5" y="17.0" width="290.29999999999995" height="251.5" fill="none" stroke="#262626" stroke-width="1"/>
<text x="386.95" y="281.20" class="tk" transform="rotate(0.03 386.95 281.20)" textLength="5.1" lengthAdjust="spacingAndGlyphs">0</text>
<text x="416.66" y="281.20" class="tk" transform="rotate(0.03 416.66 281.20)" textLength="10.2" lengthAdjust="spacingAndGlyphs">10</text>
<text x="448.91" y="281.20" class="tk" transform="rotate(0.03 448.91 281.20)" textLength="10.2" lengthAdjust="spacingAndGlyphs">20</text>
<text x="481.17" y="281.20" class="tk" transform="rotate(0.03 481.17 281.20)" textLength="10.2" lengthAdjust="spacingAndGlyphs">30</text>
<text x="513.42" y="281.20" class="tk" transform="rotate(0.03 513.42 281.20)" textLength="10.2" lengthAdjust="spacingAndGlyphs">40</text>
<text x="545.68" y="281.20" class="tk" transform="rotate(0.03 545.68 281.20)" textLength="10.2" lengthAdjust="spacingAndGlyphs">50</text>
<text x="577.93" y="281.20" class="tk" transform="rotate(0.03 577.93 281.20)" textLength="10.2" lengthAdjust="spacingAndGlyphs">60</text>
<text x="610.19" y="281.20" class="tk" transform="rotate(0.03 610.19 281.20)" textLength="10.2" lengthAdjust="spacingAndGlyphs">70</text>
<text x="642.44" y="281.20" class="tk" transform="rotate(0.03 642.44 281.20)" textLength="10.2" lengthAdjust="spacingAndGlyphs">80</text>
<text x="674.70" y="281.20" class="tk" transform="rotate(0.03 674.70 281.20)" textLength="10.2" lengthAdjust="spacingAndGlyphs">90</text>
<text x="380.90" y="272.40" class="tk" transform="rotate(0.03 380.90 272.40)" textLength="5.1" lengthAdjust="spacingAndGlyphs">0</text>
<text x="375.80" y="230.48" class="tk" transform="rotate(0.03 375.80 230.48)" textLength="10.2" lengthAdjust="spacingAndGlyphs">10</text>
<text x="375.80" y="188.57" class="tk" transform="rotate(0.03 375.80 188.57)" textLength="10.2" lengthAdjust="spacingAndGlyphs">20</text>
<text x="375.80" y="146.65" class="tk" transform="rotate(0.03 375.80 146.65)" textLength="10.2" lengthAdjust="spacingAndGlyphs">30</text>
<text x="375.80" y="104.73" class="tk" transform="rotate(0.03 375.80 104.73)" textLength="10.2" lengthAdjust="spacingAndGlyphs">40</text>
<text x="375.80" y="62.82" class="tk" transform="rotate(0.03 375.80 62.82)" textLength="10.2" lengthAdjust="spacingAndGlyphs">50</text>
<text x="375.80" y="20.90" class="tk" transform="rotate(0.03 375.80 20.90)" textLength="10.2" lengthAdjust="spacingAndGlyphs">60</text>
<text x="524.45" y="10.80" class="sf" transform="rotate(0.03 524.45 10.80)" style="font-size:14.8px;stroke-width:0.45px">(</text>
<text x="530.65" y="10.40" class="sf bd" transform="rotate(0.03 530.65 10.40)" textLength="8.5" lengthAdjust="spacingAndGlyphs" style="font-size:14px">b</text>
<text x="539.25" y="10.80" class="sf" transform="rotate(0.03 539.25 10.80)" style="font-size:14.8px;stroke-width:0.45px">)</text>
<text x="494.45" y="295.10" class="sf" transform="rotate(0.03 494.45 295.10)" textLength="60" lengthAdjust="spacingAndGlyphs">Colatitude</text>
<text x="559.65" y="295.90" class="sf pr" transform="rotate(0.03 559.65 295.90)" >(</text>
<text x="564.45" y="295.10" class="sf dg" transform="rotate(0.03 564.45 295.10)" >°</text>
<text x="569.85" y="295.90" class="sf pr" transform="rotate(0.03 569.85 295.90)" >)</text>
<g transform="translate(367.50,229.3) rotate(-90)">
<text x="-1.20" y="0.50" class="sf" style="font-size:14.5px">⟨</text>
<text x="3.00" y="0.00" class="sf it" style="font-size:13.6px">θ</text>
<text x="10.90" y="2.30" class="sf sub" textLength="15.4" lengthAdjust="spacingAndGlyphs">min</text>
<text x="26.40" y="0.40" class="sf pr" >(</text>
<text x="31.60" y="0.00" class="sf bd" textLength="5.4" lengthAdjust="spacingAndGlyphs">r</text>
<text x="37.80" y="0.40" class="sf pr" >)</text>
<text x="42.20" y="0.50" class="sf" style="font-size:14.5px">⟩</text>
<text x="48.60" y="2.30" class="sf sub" textLength="11.6" lengthAdjust="spacingAndGlyphs">lon</text>
<text x="66.20" y="0.40" class="sf pr" >(</text>
<text x="71.80" y="-1.00" class="sf dg" >°</text>
<text x="77.20" y="0.40" class="sf pr" >)</text>
<text x="87.30" y="0.40" class="sf pr" >(</text>
<text x="91.90" y="0.00" class="sf" textLength="26.6" lengthAdjust="spacingAndGlyphs">error</text>
<text x="124.40" y="1.20" class="sf" textLength="10.2" lengthAdjust="spacingAndGlyphs" style="font-size:15.5px">≤</text>
<text x="139.80" y="0.00" class="sf" textLength="23.4" lengthAdjust="spacingAndGlyphs" style="font-size:13.4px">0.37</text>
<text x="163.50" y="-1.00" class="sf dg" >°</text>
<text x="169.00" y="0.40" class="sf pr" >)</text>
</g>
<rect x="394.50" y="22.50" width="108" height="67" fill="#fff" stroke="#4a4a4a" stroke-width="1"/>
<path d="M396.60,31.30 h20.6" stroke="#2a962a" stroke-width="0.88" fill="none"/>
<text x="416.80" y="35.10" class="sf it" transform="rotate(0.03 416.80 35.10)" textLength="10" lengthAdjust="spacingAndGlyphs" style="font-size:13.6px">T</text>
<text x="426.00" y="37.50" class="sf sub" transform="rotate(0.03 426.00 37.50)" textLength="14.8" lengthAdjust="spacingAndGlyphs">min</text>
<text x="441.80" y="37.30" class="sf" transform="rotate(0.03 441.80 37.30)" textLength="6.6" lengthAdjust="spacingAndGlyphs" style="font-size:18.3px">/</text>
<text x="446.70" y="35.10" class="sf it" transform="rotate(0.03 446.70 35.10)" textLength="10" lengthAdjust="spacingAndGlyphs" style="font-size:13.6px">T</text>
<text x="462.00" y="36.70" class="sf" transform="rotate(0.03 462.00 36.70)" textLength="11" lengthAdjust="spacingAndGlyphs" style="font-size:15.5px">=</text>
<text x="476.30" y="35.10" class="sf" transform="rotate(0.03 476.30 35.10)" textLength="23.6" lengthAdjust="spacingAndGlyphs" style="font-size:14.4px">0.50</text>
<path d="M396.60,47.57 h20.6" stroke="#ff1a1a" stroke-width="0.88" stroke-dasharray="4.2 2.2" fill="none"/>
<text x="416.80" y="51.37" class="sf it" transform="rotate(0.03 416.80 51.37)" textLength="10" lengthAdjust="spacingAndGlyphs" style="font-size:13.6px">T</text>
<text x="426.00" y="53.77" class="sf sub" transform="rotate(0.03 426.00 53.77)" textLength="14.8" lengthAdjust="spacingAndGlyphs">min</text>
<text x="441.80" y="53.57" class="sf" transform="rotate(0.03 441.80 53.57)" textLength="6.6" lengthAdjust="spacingAndGlyphs" style="font-size:18.3px">/</text>
<text x="446.70" y="51.37" class="sf it" transform="rotate(0.03 446.70 51.37)" textLength="10" lengthAdjust="spacingAndGlyphs" style="font-size:13.6px">T</text>
<text x="462.00" y="52.97" class="sf" transform="rotate(0.03 462.00 52.97)" textLength="11" lengthAdjust="spacingAndGlyphs" style="font-size:15.5px">=</text>
<text x="476.30" y="51.37" class="sf" transform="rotate(0.03 476.30 51.37)" textLength="23.6" lengthAdjust="spacingAndGlyphs" style="font-size:14.4px">0.75</text>
<path d="M396.60,63.84 h20.6" stroke="#1010ff" stroke-width="0.84" stroke-dasharray="3.6 1.1 1 1.1" fill="none"/>
<text x="416.80" y="67.64" class="sf it" transform="rotate(0.03 416.80 67.64)" textLength="10" lengthAdjust="spacingAndGlyphs" style="font-size:13.6px">T</text>
<text x="426.00" y="70.04" class="sf sub" transform="rotate(0.03 426.00 70.04)" textLength="14.8" lengthAdjust="spacingAndGlyphs">min</text>
<text x="441.80" y="69.84" class="sf" transform="rotate(0.03 441.80 69.84)" textLength="6.6" lengthAdjust="spacingAndGlyphs" style="font-size:18.3px">/</text>
<text x="446.70" y="67.64" class="sf it" transform="rotate(0.03 446.70 67.64)" textLength="10" lengthAdjust="spacingAndGlyphs" style="font-size:13.6px">T</text>
<text x="462.00" y="69.24" class="sf" transform="rotate(0.03 462.00 69.24)" textLength="11" lengthAdjust="spacingAndGlyphs" style="font-size:15.5px">=</text>
<text x="476.30" y="67.64" class="sf" transform="rotate(0.03 476.30 67.64)" textLength="23.6" lengthAdjust="spacingAndGlyphs" style="font-size:14.4px">0.90</text>
<path d="M396.60,80.11 h20.6" stroke="#000" stroke-width="1.60" fill="none"/>
<text x="416.80" y="83.91" class="sf it" transform="rotate(0.03 416.80 83.91)" textLength="10" lengthAdjust="spacingAndGlyphs" style="font-size:13.6px">T</text>
<text x="426.00" y="86.31" class="sf sub" transform="rotate(0.03 426.00 86.31)" textLength="14.8" lengthAdjust="spacingAndGlyphs">min</text>
<text x="441.80" y="86.11" class="sf" transform="rotate(0.03 441.80 86.11)" textLength="6.6" lengthAdjust="spacingAndGlyphs" style="font-size:18.3px">/</text>
<text x="446.70" y="83.91" class="sf it" transform="rotate(0.03 446.70 83.91)" textLength="10" lengthAdjust="spacingAndGlyphs" style="font-size:13.6px">T</text>
<text x="462.00" y="85.51" class="sf" transform="rotate(0.03 462.00 85.51)" textLength="11" lengthAdjust="spacingAndGlyphs" style="font-size:15.5px">=</text>
<text x="476.30" y="83.91" class="sf" transform="rotate(0.03 476.30 83.91)" textLength="23.6" lengthAdjust="spacingAndGlyphs" style="font-size:14.4px">0.97</text>
</g>
</svg></body></html>
